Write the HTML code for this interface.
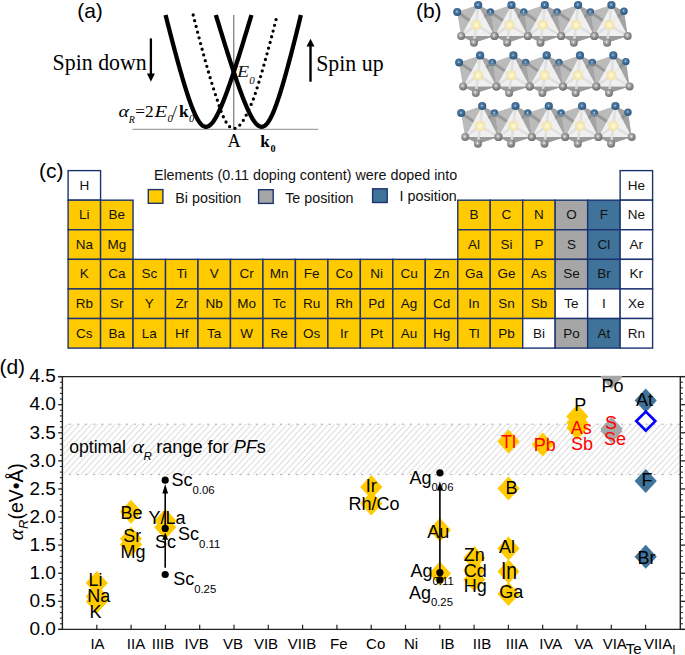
<!DOCTYPE html>
<html><head><meta charset="utf-8"><title>Figure</title>
<style>
html,body{margin:0;padding:0;background:#fff;}
svg{display:block;}
text{font-family:"Liberation Sans", sans-serif;}
.sf{font-family:"Liberation Serif", serif;}
</style></head><body>
<svg width="685" height="655" viewBox="0 0 685 655">
<defs>
<radialGradient id="gb" cx="0.45" cy="0.42" r="0.62"><stop offset="0" stop-color="#5e8cb4"/><stop offset="0.6" stop-color="#3a6891"/><stop offset="1" stop-color="#284e72"/></radialGradient>
<radialGradient id="gg" cx="0.42" cy="0.38" r="0.65"><stop offset="0" stop-color="#d0d0d0"/><stop offset="0.55" stop-color="#8e8e8e"/><stop offset="1" stop-color="#6c6c6c"/></radialGradient>
<radialGradient id="gy" cx="0.5" cy="0.5" r="0.5"><stop offset="0" stop-color="#fffbe6"/><stop offset="0.55" stop-color="#f7eab2"/><stop offset="0.85" stop-color="#f1e2a4" stop-opacity="0.8"/><stop offset="1" stop-color="#f0e0a0" stop-opacity="0"/></radialGradient>
<pattern id="hatch" patternUnits="userSpaceOnUse" width="5.93" height="6.46" patternTransform="translate(61.9 424.2)">
<path d="M-5.93,6.46 L0,0 M0,6.46 L5.93,0 M5.93,6.46 L11.86,0" stroke="#c2c2c2" stroke-width="0.8" fill="none"/>
</pattern>
<clipPath id="poclip"><rect x="62.4" y="375.7" width="617.9" height="252.8"/></clipPath>
</defs>
<rect width="685" height="655" fill="#fff"/>

<text x="77.2" y="18.3" font-size="21">(a)</text>
<line x1="233.8" y1="15" x2="233.8" y2="129.3" stroke="#5a5a5a" stroke-width="1"/>
<line x1="132.5" y1="129.3" x2="318.3" y2="129.3" stroke="#8c8c8c" stroke-width="1"/>
<path d="M193.19,15.00 L193.91,17.82 L194.62,20.60 L195.32,23.35 L196.02,26.07 L196.71,28.74 L197.40,31.39 L198.08,33.99 L198.75,36.56 L199.42,39.10 L200.08,41.60 L200.74,44.07 L201.39,46.50 L202.03,48.89 L202.67,51.25 L203.30,53.57 L203.93,55.86 L204.55,58.11 L205.16,60.33 L205.77,62.51 L206.38,64.66 L206.98,66.77 L207.57,68.84 L208.15,70.88 L208.74,72.89 L209.31,74.85 L209.88,76.79 L210.45,78.68 L211.01,80.55 L211.57,82.37 L212.12,84.16 L212.67,85.92 L213.21,87.64 L213.74,89.32 L214.28,90.97 L214.80,92.59 L215.33,94.17 L215.84,95.71 L216.36,97.22 L216.86,98.69 L217.30,100.12 L217.73,101.53 L218.17,102.89 L218.60,104.22 L219.03,105.52 L219.45,106.78 L219.88,108.00 L220.30,109.19 L220.72,110.34 L221.14,111.46 L221.56,112.54 L221.97,113.59 L222.39,114.60 L222.80,115.57 L223.21,116.51 L223.62,117.42 L224.03,118.28 L224.44,119.12 L224.85,119.92 L225.26,120.68 L225.66,121.41 L226.07,122.10 L226.47,122.75 L226.88,123.37 L227.28,123.96 L227.68,124.51 L228.09,125.02 L228.49,125.50 L228.90,125.95 L229.30,126.35 L229.71,126.73 L230.11,127.06 L230.52,127.36 L230.92,127.63 L231.33,127.86 L231.74,128.06 L232.15,128.22 L232.56,128.34 L232.97,128.43 L233.38,128.48 L233.80,128.50 L234.22,128.48 L234.64,128.43 L235.06,128.34 L235.48,128.22 L235.90,128.06 L236.33,127.86 L236.76,127.63 L237.19,127.36 L237.62,127.06 L238.06,126.73 L238.50,126.35 L238.94,125.95 L239.39,125.50 L239.84,125.02 L240.29,124.51 L240.74,123.96 L241.20,123.37 L241.66,122.75 L242.13,122.10 L242.60,121.41 L243.07,120.68 L243.55,119.92 L244.03,119.12 L244.52,118.28 L245.01,117.42 L245.51,116.51 L246.00,115.57 L246.51,114.60 L247.02,113.59 L247.53,112.54 L248.05,111.46 L248.57,110.34 L249.10,109.19 L249.63,108.00 L250.17,106.78 L250.72,105.52 L251.27,104.22 L251.82,102.89 L252.38,101.53 L252.95,100.12 L253.52,98.69 L254.04,97.22 L254.56,95.71 L255.07,94.17 L255.60,92.59 L256.12,90.97 L256.66,89.32 L257.19,87.64 L257.73,85.92 L258.28,84.16 L258.83,82.37 L259.39,80.55 L259.95,78.68 L260.52,76.79 L261.09,74.85 L261.66,72.89 L262.25,70.88 L262.83,68.84 L263.42,66.77 L264.02,64.66 L264.63,62.51 L265.24,60.33 L265.85,58.11 L266.47,55.86 L267.10,53.57 L267.73,51.25 L268.37,48.89 L269.01,46.50 L269.66,44.07 L270.32,41.60 L270.98,39.10 L271.65,36.56 L272.32,33.99 L273.00,31.39 L273.69,28.74 L274.38,26.07 L275.08,23.35 L275.78,20.60 L276.49,17.82 L277.21,15.00" fill="none" stroke="#000" stroke-width="3.3" stroke-linecap="round" stroke-dasharray="0 5.9"/>
<path d="M165.55,15.00 L166.26,17.78 L166.95,20.52 L167.64,23.23 L168.33,25.90 L169.01,28.54 L169.68,31.14 L170.34,33.71 L171.00,36.24 L171.65,38.74 L172.29,41.20 L172.93,43.63 L173.57,46.02 L174.19,48.38 L174.81,50.71 L175.43,52.99 L176.04,55.25 L176.64,57.47 L177.23,59.65 L177.82,61.80 L178.41,63.91 L178.99,65.99 L179.56,68.04 L180.13,70.04 L180.69,72.02 L181.25,73.96 L181.80,75.86 L182.34,77.73 L182.88,79.56 L183.42,81.36 L183.95,83.13 L184.47,84.86 L184.99,86.55 L185.51,88.21 L186.02,89.84 L186.52,91.43 L187.02,92.98 L187.52,94.50 L188.01,95.99 L188.50,97.44 L188.98,98.85 L189.46,100.23 L189.93,101.58 L190.40,102.89 L190.87,104.16 L191.33,105.40 L191.79,106.61 L192.25,107.78 L192.70,108.91 L193.15,110.01 L193.59,111.08 L194.03,112.11 L194.47,113.10 L194.91,114.07 L195.34,114.99 L195.77,115.88 L196.20,116.74 L196.62,117.56 L197.04,118.35 L197.46,119.10 L197.88,119.81 L198.30,120.49 L198.71,121.14 L199.12,121.75 L199.54,122.33 L199.94,122.87 L200.35,123.38 L200.76,123.85 L201.16,124.28 L201.57,124.69 L201.97,125.05 L202.38,125.39 L202.78,125.68 L203.18,125.94 L203.58,126.17 L203.99,126.36 L204.39,126.52 L204.79,126.64 L205.19,126.73 L205.60,126.78 L206.00,126.80 L206.40,126.78 L206.81,126.73 L207.22,126.64 L207.62,126.52 L208.03,126.36 L208.44,126.17 L208.86,125.94 L209.27,125.68 L209.69,125.39 L210.10,125.05 L210.52,124.69 L210.95,124.28 L211.37,123.85 L211.80,123.38 L212.23,122.87 L212.66,122.33 L213.10,121.75 L213.54,121.14 L213.98,120.49 L214.43,119.81 L214.88,119.10 L215.33,118.35 L215.79,117.56 L216.25,116.74 L216.72,115.88 L217.19,114.99 L217.66,114.07 L218.14,113.10 L218.62,112.11 L219.11,111.08 L219.60,110.01 L220.10,108.91 L220.60,107.78 L221.11,106.61 L221.62,105.40 L222.14,104.16 L222.66,102.89 L223.19,101.58 L223.73,100.23 L224.27,98.85 L224.81,97.44 L225.36,95.99 L225.92,94.50 L226.49,92.98 L227.06,91.43 L227.63,89.84 L228.21,88.21 L228.80,86.55 L229.40,84.86 L230.00,83.13 L230.61,81.36 L231.23,79.56 L231.85,77.73 L232.48,75.86 L233.11,73.96 L233.76,72.02 L234.41,70.04 L235.06,68.04 L235.73,65.99 L236.40,63.91 L237.08,61.80 L237.76,59.65 L238.46,57.47 L239.16,55.25 L239.87,52.99 L240.58,50.71 L241.31,48.38 L242.04,46.02 L242.78,43.63 L243.53,41.20 L244.28,38.74 L245.04,36.24 L245.82,33.71 L246.59,31.14 L247.38,28.54 L248.18,25.90 L248.98,23.23 L249.79,20.52 L250.61,17.78 L251.44,15.00" fill="none" stroke="#000" stroke-width="4.3" stroke-linejoin="round"/>
<path d="M215.89,15.00 L216.73,17.78 L217.56,20.52 L218.38,23.23 L219.19,25.90 L220.00,28.54 L220.79,31.14 L221.58,33.71 L222.36,36.24 L223.13,38.74 L223.89,41.20 L224.65,43.63 L225.40,46.02 L226.14,48.38 L226.87,50.71 L227.59,52.99 L228.31,55.25 L229.02,57.47 L229.72,59.65 L230.41,61.80 L231.10,63.91 L231.78,65.99 L232.45,68.04 L233.11,70.04 L233.77,72.02 L234.42,73.96 L235.06,75.86 L235.69,77.73 L236.32,79.56 L236.94,81.36 L237.56,83.13 L238.16,84.86 L238.76,86.55 L239.36,88.21 L239.95,89.84 L240.53,91.43 L241.10,92.98 L241.67,94.50 L242.23,95.99 L242.79,97.44 L243.34,98.85 L243.88,100.23 L244.42,101.58 L244.95,102.89 L245.48,104.16 L246.00,105.40 L246.51,106.61 L247.02,107.78 L247.53,108.91 L248.02,110.01 L248.52,111.08 L249.01,112.11 L249.49,113.10 L249.97,114.07 L250.45,114.99 L250.92,115.88 L251.39,116.74 L251.85,117.56 L252.31,118.35 L252.76,119.10 L253.21,119.81 L253.66,120.49 L254.10,121.14 L254.54,121.75 L254.97,122.33 L255.41,122.87 L255.84,123.38 L256.26,123.85 L256.69,124.28 L257.11,124.69 L257.53,125.05 L257.94,125.39 L258.36,125.68 L258.77,125.94 L259.18,126.17 L259.58,126.36 L259.99,126.52 L260.39,126.64 L260.80,126.73 L261.20,126.78 L261.60,126.80 L262.00,126.78 L262.40,126.73 L262.80,126.64 L263.19,126.52 L263.59,126.36 L263.99,126.17 L264.38,125.94 L264.78,125.68 L265.18,125.39 L265.57,125.05 L265.97,124.69 L266.37,124.28 L266.77,123.85 L267.17,123.38 L267.57,122.87 L267.97,122.33 L268.37,121.75 L268.78,121.14 L269.18,120.49 L269.59,119.81 L270.00,119.10 L270.41,118.35 L270.82,117.56 L271.24,116.74 L271.66,115.88 L272.08,114.99 L272.50,114.07 L272.92,113.10 L273.35,112.11 L273.78,111.08 L274.22,110.01 L274.65,108.91 L275.09,107.78 L275.53,106.61 L275.98,105.40 L276.43,104.16 L276.88,102.89 L277.34,101.58 L277.80,100.23 L278.27,98.85 L278.74,97.44 L279.21,95.99 L279.69,94.50 L280.17,92.98 L280.65,91.43 L281.14,89.84 L281.64,88.21 L282.14,86.55 L282.64,84.86 L283.15,83.13 L283.66,81.36 L284.18,79.56 L284.70,77.73 L285.23,75.86 L285.76,73.96 L286.30,72.02 L286.85,70.04 L287.39,68.04 L287.95,65.99 L288.51,63.91 L289.07,61.80 L289.64,59.65 L290.22,57.47 L290.80,55.25 L291.39,52.99 L291.98,50.71 L292.58,48.38 L293.19,46.02 L293.80,43.63 L294.41,41.20 L295.04,38.74 L295.67,36.24 L296.30,33.71 L296.94,31.14 L297.59,28.54 L298.24,25.90 L298.90,23.23 L299.57,20.52 L300.24,17.78 L300.92,15.00" fill="none" stroke="#000" stroke-width="4.3" stroke-linejoin="round"/>
<text class="sf" transform="translate(52.6 69.8) scale(0.972 1)" font-size="22.5">Spin down</text>
<text class="sf" transform="translate(316.2 71) scale(0.972 1)" font-size="22.5">Spin up</text>
<line x1="150.9" y1="38.4" x2="150.9" y2="74.5" stroke="#000" stroke-width="2.3"/>
<polygon points="146.9,73.6 154.9,73.6 150.9,81.7" fill="#000"/>
<line x1="310.5" y1="45.5" x2="310.5" y2="81.7" stroke="#000" stroke-width="2.4"/>
<polygon points="306.5,46.4 314.5,46.4 310.5,38.8" fill="#000"/>
<text class="sf" transform="translate(237.1 76.8) scale(1.19 1)" font-size="16.6" font-style="italic" fill="#111">E</text>
<text class="sf" x="249.2" y="84" font-size="11" font-style="italic" fill="#111">0</text>
<text class="sf" transform="translate(118.6 117) scale(1.13 1)" font-size="17.6" font-style="italic">α</text>
<text class="sf" x="128.7" y="122.7" font-size="10" font-style="italic">R</text>
<text class="sf" x="135.2" y="117" font-size="17.3">=2</text>
<text class="sf" transform="translate(154.6 117) scale(1.2 1)" font-size="17.3" font-style="italic">E</text>
<text class="sf" x="167.4" y="122.3" font-size="10.8" font-style="italic">0</text>
<text class="sf" x="172.2" y="117" font-size="17.3">/</text>
<text class="sf" x="178.9" y="117" font-size="17.3" font-weight="bold">k</text>
<text class="sf" x="188.9" y="122" font-size="10.5" font-style="italic">0</text>
<text class="sf" x="227.5" y="146.5" font-size="18.3">A</text>
<text class="sf" x="260.3" y="146.5" font-size="17.2" font-weight="bold">k</text>
<text class="sf" x="270.6" y="151.5" font-size="10.2" font-weight="bold">0</text>
<text x="415.9" y="18.1" font-size="21">(b)</text>
<polygon points="457.2,12.0 478.2,5.0 490.8,11.2 494.5,36.0 473.9,42.7 461.2,36.0" fill="#929292" fill-opacity="0.7"/>
<polygon points="457.2,12.0 478.2,5.0 461.2,36.0" fill="#c4c4c4" fill-opacity="0.5"/>
<polygon points="478.2,5.0 490.8,11.2 494.5,36.0" fill="#969696" fill-opacity="0.5"/>
<polygon points="461.2,36.0 473.9,42.7 494.5,36.0" fill="#9a9a9a"/>
<line x1="476.2" y1="25.0" x2="457.2" y2="12.0" stroke="#7e7e7e" stroke-opacity="0.55" stroke-width="2.8"/>
<line x1="476.2" y1="25.0" x2="490.8" y2="11.2" stroke="#7e7e7e" stroke-opacity="0.55" stroke-width="2.8"/>
<polygon points="478.2,5.0 461.2,36.0 494.5,36.0" fill="#f6f6f6" fill-opacity="0.9"/>
<line x1="476.2" y1="25.0" x2="478.2" y2="5.0" stroke="#dedede" stroke-opacity="0.9" stroke-width="2.6"/>
<line x1="476.2" y1="25.0" x2="461.2" y2="36.0" stroke="#dedede" stroke-opacity="0.9" stroke-width="2.6"/>
<line x1="476.2" y1="25.0" x2="473.9" y2="42.7" stroke="#dedede" stroke-opacity="0.9" stroke-width="2.6"/>
<line x1="476.2" y1="25.0" x2="494.5" y2="36.0" stroke="#dedede" stroke-opacity="0.9" stroke-width="2.6"/>
<circle cx="476.2" cy="25.0" r="5.6" fill="url(#gy)"/>
<polygon points="490.5,12.0 511.5,5.0 524.1,11.2 527.8,36.0 507.2,42.7 494.5,36.0" fill="#929292" fill-opacity="0.7"/>
<polygon points="490.5,12.0 511.5,5.0 494.5,36.0" fill="#c4c4c4" fill-opacity="0.5"/>
<polygon points="511.5,5.0 524.1,11.2 527.8,36.0" fill="#969696" fill-opacity="0.5"/>
<polygon points="494.5,36.0 507.2,42.7 527.8,36.0" fill="#9a9a9a"/>
<line x1="509.5" y1="25.0" x2="490.5" y2="12.0" stroke="#7e7e7e" stroke-opacity="0.55" stroke-width="2.8"/>
<line x1="509.5" y1="25.0" x2="524.1" y2="11.2" stroke="#7e7e7e" stroke-opacity="0.55" stroke-width="2.8"/>
<polygon points="511.5,5.0 494.5,36.0 527.8,36.0" fill="#f6f6f6" fill-opacity="0.9"/>
<line x1="509.5" y1="25.0" x2="511.5" y2="5.0" stroke="#dedede" stroke-opacity="0.9" stroke-width="2.6"/>
<line x1="509.5" y1="25.0" x2="494.5" y2="36.0" stroke="#dedede" stroke-opacity="0.9" stroke-width="2.6"/>
<line x1="509.5" y1="25.0" x2="507.2" y2="42.7" stroke="#dedede" stroke-opacity="0.9" stroke-width="2.6"/>
<line x1="509.5" y1="25.0" x2="527.8" y2="36.0" stroke="#dedede" stroke-opacity="0.9" stroke-width="2.6"/>
<circle cx="509.5" cy="25.0" r="5.6" fill="url(#gy)"/>
<polygon points="523.8,12.0 544.8,5.0 557.4,11.2 561.1,36.0 540.5,42.7 527.8,36.0" fill="#929292" fill-opacity="0.7"/>
<polygon points="523.8,12.0 544.8,5.0 527.8,36.0" fill="#c4c4c4" fill-opacity="0.5"/>
<polygon points="544.8,5.0 557.4,11.2 561.1,36.0" fill="#969696" fill-opacity="0.5"/>
<polygon points="527.8,36.0 540.5,42.7 561.1,36.0" fill="#9a9a9a"/>
<line x1="542.8" y1="25.0" x2="523.8" y2="12.0" stroke="#7e7e7e" stroke-opacity="0.55" stroke-width="2.8"/>
<line x1="542.8" y1="25.0" x2="557.4" y2="11.2" stroke="#7e7e7e" stroke-opacity="0.55" stroke-width="2.8"/>
<polygon points="544.8,5.0 527.8,36.0 561.1,36.0" fill="#f6f6f6" fill-opacity="0.9"/>
<line x1="542.8" y1="25.0" x2="544.8" y2="5.0" stroke="#dedede" stroke-opacity="0.9" stroke-width="2.6"/>
<line x1="542.8" y1="25.0" x2="527.8" y2="36.0" stroke="#dedede" stroke-opacity="0.9" stroke-width="2.6"/>
<line x1="542.8" y1="25.0" x2="540.5" y2="42.7" stroke="#dedede" stroke-opacity="0.9" stroke-width="2.6"/>
<line x1="542.8" y1="25.0" x2="561.1" y2="36.0" stroke="#dedede" stroke-opacity="0.9" stroke-width="2.6"/>
<circle cx="542.8" cy="25.0" r="5.6" fill="url(#gy)"/>
<polygon points="557.1,12.0 578.1,5.0 590.7,11.2 594.4,36.0 573.8,42.7 561.1,36.0" fill="#929292" fill-opacity="0.7"/>
<polygon points="557.1,12.0 578.1,5.0 561.1,36.0" fill="#c4c4c4" fill-opacity="0.5"/>
<polygon points="578.1,5.0 590.7,11.2 594.4,36.0" fill="#969696" fill-opacity="0.5"/>
<polygon points="561.1,36.0 573.8,42.7 594.4,36.0" fill="#9a9a9a"/>
<line x1="576.1" y1="25.0" x2="557.1" y2="12.0" stroke="#7e7e7e" stroke-opacity="0.55" stroke-width="2.8"/>
<line x1="576.1" y1="25.0" x2="590.7" y2="11.2" stroke="#7e7e7e" stroke-opacity="0.55" stroke-width="2.8"/>
<polygon points="578.1,5.0 561.1,36.0 594.4,36.0" fill="#f6f6f6" fill-opacity="0.9"/>
<line x1="576.1" y1="25.0" x2="578.1" y2="5.0" stroke="#dedede" stroke-opacity="0.9" stroke-width="2.6"/>
<line x1="576.1" y1="25.0" x2="561.1" y2="36.0" stroke="#dedede" stroke-opacity="0.9" stroke-width="2.6"/>
<line x1="576.1" y1="25.0" x2="573.8" y2="42.7" stroke="#dedede" stroke-opacity="0.9" stroke-width="2.6"/>
<line x1="576.1" y1="25.0" x2="594.4" y2="36.0" stroke="#dedede" stroke-opacity="0.9" stroke-width="2.6"/>
<circle cx="576.1" cy="25.0" r="5.6" fill="url(#gy)"/>
<polygon points="590.4,12.0 611.4,5.0 624.0,11.2 627.7,36.0 607.1,42.7 594.4,36.0" fill="#929292" fill-opacity="0.7"/>
<polygon points="590.4,12.0 611.4,5.0 594.4,36.0" fill="#c4c4c4" fill-opacity="0.5"/>
<polygon points="611.4,5.0 624.0,11.2 627.7,36.0" fill="#969696" fill-opacity="0.5"/>
<polygon points="594.4,36.0 607.1,42.7 627.7,36.0" fill="#9a9a9a"/>
<line x1="609.4" y1="25.0" x2="590.4" y2="12.0" stroke="#7e7e7e" stroke-opacity="0.55" stroke-width="2.8"/>
<line x1="609.4" y1="25.0" x2="624.0" y2="11.2" stroke="#7e7e7e" stroke-opacity="0.55" stroke-width="2.8"/>
<polygon points="611.4,5.0 594.4,36.0 627.7,36.0" fill="#f6f6f6" fill-opacity="0.9"/>
<line x1="609.4" y1="25.0" x2="611.4" y2="5.0" stroke="#dedede" stroke-opacity="0.9" stroke-width="2.6"/>
<line x1="609.4" y1="25.0" x2="594.4" y2="36.0" stroke="#dedede" stroke-opacity="0.9" stroke-width="2.6"/>
<line x1="609.4" y1="25.0" x2="607.1" y2="42.7" stroke="#dedede" stroke-opacity="0.9" stroke-width="2.6"/>
<line x1="609.4" y1="25.0" x2="627.7" y2="36.0" stroke="#dedede" stroke-opacity="0.9" stroke-width="2.6"/>
<circle cx="609.4" cy="25.0" r="5.6" fill="url(#gy)"/>
<circle cx="490.5" cy="12.0" r="3.7" fill="url(#gb)"/>
<circle cx="490.2" cy="11.7" r="0.7" fill="#fff" fill-opacity="0.75"/>
<path d="M486.6,13.0 A3.9,3.9 0 0 0 494.4,13.0 Z" fill="#a4a4a4" fill-opacity="0.55"/>
<circle cx="523.8" cy="12.0" r="3.7" fill="url(#gb)"/>
<circle cx="523.5" cy="11.7" r="0.7" fill="#fff" fill-opacity="0.75"/>
<path d="M519.9,13.0 A3.9,3.9 0 0 0 527.7,13.0 Z" fill="#a4a4a4" fill-opacity="0.55"/>
<circle cx="557.1" cy="12.0" r="3.7" fill="url(#gb)"/>
<circle cx="556.8" cy="11.7" r="0.7" fill="#fff" fill-opacity="0.75"/>
<path d="M553.2,13.0 A3.9,3.9 0 0 0 561.0,13.0 Z" fill="#a4a4a4" fill-opacity="0.55"/>
<circle cx="590.4" cy="12.0" r="3.7" fill="url(#gb)"/>
<circle cx="590.1" cy="11.7" r="0.7" fill="#fff" fill-opacity="0.75"/>
<path d="M586.5,13.0 A3.9,3.9 0 0 0 594.3,13.0 Z" fill="#a4a4a4" fill-opacity="0.55"/>
<circle cx="457.2" cy="12.0" r="4.0" fill="url(#gb)"/>
<circle cx="456.9" cy="11.7" r="0.7" fill="#fff" fill-opacity="0.75"/>
<circle cx="624.0" cy="11.2" r="3.7" fill="url(#gb)"/>
<circle cx="623.7" cy="10.9" r="0.7" fill="#fff" fill-opacity="0.75"/>
<circle cx="478.2" cy="5.0" r="4.1" fill="url(#gb)"/>
<circle cx="477.9" cy="4.7" r="0.7" fill="#fff" fill-opacity="0.75"/>
<circle cx="511.5" cy="5.0" r="4.1" fill="url(#gb)"/>
<circle cx="511.2" cy="4.7" r="0.7" fill="#fff" fill-opacity="0.75"/>
<circle cx="544.8" cy="5.0" r="4.1" fill="url(#gb)"/>
<circle cx="544.5" cy="4.7" r="0.7" fill="#fff" fill-opacity="0.75"/>
<circle cx="578.1" cy="5.0" r="4.1" fill="url(#gb)"/>
<circle cx="577.8" cy="4.7" r="0.7" fill="#fff" fill-opacity="0.75"/>
<circle cx="611.4" cy="5.0" r="4.1" fill="url(#gb)"/>
<circle cx="611.1" cy="4.7" r="0.7" fill="#fff" fill-opacity="0.75"/>
<circle cx="461.2" cy="36.0" r="4.0" fill="url(#gg)"/>
<circle cx="460.9" cy="35.7" r="0.7" fill="#fff" fill-opacity="0.75"/>
<circle cx="494.5" cy="36.0" r="4.0" fill="url(#gg)"/>
<circle cx="494.2" cy="35.7" r="0.7" fill="#fff" fill-opacity="0.75"/>
<circle cx="473.9" cy="42.7" r="4.0" fill="url(#gg)"/>
<circle cx="473.6" cy="42.4" r="0.7" fill="#fff" fill-opacity="0.75"/>
<circle cx="494.5" cy="36.0" r="4.0" fill="url(#gg)"/>
<circle cx="494.2" cy="35.7" r="0.7" fill="#fff" fill-opacity="0.75"/>
<circle cx="527.8" cy="36.0" r="4.0" fill="url(#gg)"/>
<circle cx="527.5" cy="35.7" r="0.7" fill="#fff" fill-opacity="0.75"/>
<circle cx="507.2" cy="42.7" r="4.0" fill="url(#gg)"/>
<circle cx="506.9" cy="42.4" r="0.7" fill="#fff" fill-opacity="0.75"/>
<circle cx="527.8" cy="36.0" r="4.0" fill="url(#gg)"/>
<circle cx="527.5" cy="35.7" r="0.7" fill="#fff" fill-opacity="0.75"/>
<circle cx="561.1" cy="36.0" r="4.0" fill="url(#gg)"/>
<circle cx="560.8" cy="35.7" r="0.7" fill="#fff" fill-opacity="0.75"/>
<circle cx="540.5" cy="42.7" r="4.0" fill="url(#gg)"/>
<circle cx="540.2" cy="42.4" r="0.7" fill="#fff" fill-opacity="0.75"/>
<circle cx="561.1" cy="36.0" r="4.0" fill="url(#gg)"/>
<circle cx="560.8" cy="35.7" r="0.7" fill="#fff" fill-opacity="0.75"/>
<circle cx="594.4" cy="36.0" r="4.0" fill="url(#gg)"/>
<circle cx="594.1" cy="35.7" r="0.7" fill="#fff" fill-opacity="0.75"/>
<circle cx="573.8" cy="42.7" r="4.0" fill="url(#gg)"/>
<circle cx="573.5" cy="42.4" r="0.7" fill="#fff" fill-opacity="0.75"/>
<circle cx="594.4" cy="36.0" r="4.0" fill="url(#gg)"/>
<circle cx="594.1" cy="35.7" r="0.7" fill="#fff" fill-opacity="0.75"/>
<circle cx="627.7" cy="36.0" r="4.0" fill="url(#gg)"/>
<circle cx="627.4" cy="35.7" r="0.7" fill="#fff" fill-opacity="0.75"/>
<circle cx="607.1" cy="42.7" r="4.0" fill="url(#gg)"/>
<circle cx="606.8" cy="42.4" r="0.7" fill="#fff" fill-opacity="0.75"/>
<polygon points="459.1,62.4 480.1,55.4 492.7,61.6 496.4,86.4 475.8,93.1 463.1,86.4" fill="#929292" fill-opacity="0.7"/>
<polygon points="459.1,62.4 480.1,55.4 463.1,86.4" fill="#c4c4c4" fill-opacity="0.5"/>
<polygon points="480.1,55.4 492.7,61.6 496.4,86.4" fill="#969696" fill-opacity="0.5"/>
<polygon points="463.1,86.4 475.8,93.1 496.4,86.4" fill="#9a9a9a"/>
<line x1="478.1" y1="75.4" x2="459.1" y2="62.4" stroke="#7e7e7e" stroke-opacity="0.55" stroke-width="2.8"/>
<line x1="478.1" y1="75.4" x2="492.7" y2="61.6" stroke="#7e7e7e" stroke-opacity="0.55" stroke-width="2.8"/>
<polygon points="480.1,55.4 463.1,86.4 496.4,86.4" fill="#f6f6f6" fill-opacity="0.9"/>
<line x1="478.1" y1="75.4" x2="480.1" y2="55.4" stroke="#dedede" stroke-opacity="0.9" stroke-width="2.6"/>
<line x1="478.1" y1="75.4" x2="463.1" y2="86.4" stroke="#dedede" stroke-opacity="0.9" stroke-width="2.6"/>
<line x1="478.1" y1="75.4" x2="475.8" y2="93.1" stroke="#dedede" stroke-opacity="0.9" stroke-width="2.6"/>
<line x1="478.1" y1="75.4" x2="496.4" y2="86.4" stroke="#dedede" stroke-opacity="0.9" stroke-width="2.6"/>
<circle cx="478.1" cy="75.4" r="5.6" fill="url(#gy)"/>
<polygon points="492.4,62.4 513.4,55.4 526.0,61.6 529.7,86.4 509.1,93.1 496.4,86.4" fill="#929292" fill-opacity="0.7"/>
<polygon points="492.4,62.4 513.4,55.4 496.4,86.4" fill="#c4c4c4" fill-opacity="0.5"/>
<polygon points="513.4,55.4 526.0,61.6 529.7,86.4" fill="#969696" fill-opacity="0.5"/>
<polygon points="496.4,86.4 509.1,93.1 529.7,86.4" fill="#9a9a9a"/>
<line x1="511.4" y1="75.4" x2="492.4" y2="62.4" stroke="#7e7e7e" stroke-opacity="0.55" stroke-width="2.8"/>
<line x1="511.4" y1="75.4" x2="526.0" y2="61.6" stroke="#7e7e7e" stroke-opacity="0.55" stroke-width="2.8"/>
<polygon points="513.4,55.4 496.4,86.4 529.7,86.4" fill="#f6f6f6" fill-opacity="0.9"/>
<line x1="511.4" y1="75.4" x2="513.4" y2="55.4" stroke="#dedede" stroke-opacity="0.9" stroke-width="2.6"/>
<line x1="511.4" y1="75.4" x2="496.4" y2="86.4" stroke="#dedede" stroke-opacity="0.9" stroke-width="2.6"/>
<line x1="511.4" y1="75.4" x2="509.1" y2="93.1" stroke="#dedede" stroke-opacity="0.9" stroke-width="2.6"/>
<line x1="511.4" y1="75.4" x2="529.7" y2="86.4" stroke="#dedede" stroke-opacity="0.9" stroke-width="2.6"/>
<circle cx="511.4" cy="75.4" r="5.6" fill="url(#gy)"/>
<polygon points="525.7,62.4 546.7,55.4 559.3,61.6 563.0,86.4 542.4,93.1 529.7,86.4" fill="#929292" fill-opacity="0.7"/>
<polygon points="525.7,62.4 546.7,55.4 529.7,86.4" fill="#c4c4c4" fill-opacity="0.5"/>
<polygon points="546.7,55.4 559.3,61.6 563.0,86.4" fill="#969696" fill-opacity="0.5"/>
<polygon points="529.7,86.4 542.4,93.1 563.0,86.4" fill="#9a9a9a"/>
<line x1="544.7" y1="75.4" x2="525.7" y2="62.4" stroke="#7e7e7e" stroke-opacity="0.55" stroke-width="2.8"/>
<line x1="544.7" y1="75.4" x2="559.3" y2="61.6" stroke="#7e7e7e" stroke-opacity="0.55" stroke-width="2.8"/>
<polygon points="546.7,55.4 529.7,86.4 563.0,86.4" fill="#f6f6f6" fill-opacity="0.9"/>
<line x1="544.7" y1="75.4" x2="546.7" y2="55.4" stroke="#dedede" stroke-opacity="0.9" stroke-width="2.6"/>
<line x1="544.7" y1="75.4" x2="529.7" y2="86.4" stroke="#dedede" stroke-opacity="0.9" stroke-width="2.6"/>
<line x1="544.7" y1="75.4" x2="542.4" y2="93.1" stroke="#dedede" stroke-opacity="0.9" stroke-width="2.6"/>
<line x1="544.7" y1="75.4" x2="563.0" y2="86.4" stroke="#dedede" stroke-opacity="0.9" stroke-width="2.6"/>
<circle cx="544.7" cy="75.4" r="5.6" fill="url(#gy)"/>
<polygon points="559.0,62.4 580.0,55.4 592.6,61.6 596.3,86.4 575.7,93.1 563.0,86.4" fill="#929292" fill-opacity="0.7"/>
<polygon points="559.0,62.4 580.0,55.4 563.0,86.4" fill="#c4c4c4" fill-opacity="0.5"/>
<polygon points="580.0,55.4 592.6,61.6 596.3,86.4" fill="#969696" fill-opacity="0.5"/>
<polygon points="563.0,86.4 575.7,93.1 596.3,86.4" fill="#9a9a9a"/>
<line x1="578.0" y1="75.4" x2="559.0" y2="62.4" stroke="#7e7e7e" stroke-opacity="0.55" stroke-width="2.8"/>
<line x1="578.0" y1="75.4" x2="592.6" y2="61.6" stroke="#7e7e7e" stroke-opacity="0.55" stroke-width="2.8"/>
<polygon points="580.0,55.4 563.0,86.4 596.3,86.4" fill="#f6f6f6" fill-opacity="0.9"/>
<line x1="578.0" y1="75.4" x2="580.0" y2="55.4" stroke="#dedede" stroke-opacity="0.9" stroke-width="2.6"/>
<line x1="578.0" y1="75.4" x2="563.0" y2="86.4" stroke="#dedede" stroke-opacity="0.9" stroke-width="2.6"/>
<line x1="578.0" y1="75.4" x2="575.7" y2="93.1" stroke="#dedede" stroke-opacity="0.9" stroke-width="2.6"/>
<line x1="578.0" y1="75.4" x2="596.3" y2="86.4" stroke="#dedede" stroke-opacity="0.9" stroke-width="2.6"/>
<circle cx="578.0" cy="75.4" r="5.6" fill="url(#gy)"/>
<polygon points="592.3,62.4 613.3,55.4 625.9,61.6 629.6,86.4 609.0,93.1 596.3,86.4" fill="#929292" fill-opacity="0.7"/>
<polygon points="592.3,62.4 613.3,55.4 596.3,86.4" fill="#c4c4c4" fill-opacity="0.5"/>
<polygon points="613.3,55.4 625.9,61.6 629.6,86.4" fill="#969696" fill-opacity="0.5"/>
<polygon points="596.3,86.4 609.0,93.1 629.6,86.4" fill="#9a9a9a"/>
<line x1="611.3" y1="75.4" x2="592.3" y2="62.4" stroke="#7e7e7e" stroke-opacity="0.55" stroke-width="2.8"/>
<line x1="611.3" y1="75.4" x2="625.9" y2="61.6" stroke="#7e7e7e" stroke-opacity="0.55" stroke-width="2.8"/>
<polygon points="613.3,55.4 596.3,86.4 629.6,86.4" fill="#f6f6f6" fill-opacity="0.9"/>
<line x1="611.3" y1="75.4" x2="613.3" y2="55.4" stroke="#dedede" stroke-opacity="0.9" stroke-width="2.6"/>
<line x1="611.3" y1="75.4" x2="596.3" y2="86.4" stroke="#dedede" stroke-opacity="0.9" stroke-width="2.6"/>
<line x1="611.3" y1="75.4" x2="609.0" y2="93.1" stroke="#dedede" stroke-opacity="0.9" stroke-width="2.6"/>
<line x1="611.3" y1="75.4" x2="629.6" y2="86.4" stroke="#dedede" stroke-opacity="0.9" stroke-width="2.6"/>
<circle cx="611.3" cy="75.4" r="5.6" fill="url(#gy)"/>
<circle cx="492.4" cy="62.4" r="3.7" fill="url(#gb)"/>
<circle cx="492.1" cy="62.1" r="0.7" fill="#fff" fill-opacity="0.75"/>
<path d="M488.5,63.4 A3.9,3.9 0 0 0 496.3,63.4 Z" fill="#a4a4a4" fill-opacity="0.55"/>
<circle cx="525.7" cy="62.4" r="3.7" fill="url(#gb)"/>
<circle cx="525.4" cy="62.1" r="0.7" fill="#fff" fill-opacity="0.75"/>
<path d="M521.8,63.4 A3.9,3.9 0 0 0 529.6,63.4 Z" fill="#a4a4a4" fill-opacity="0.55"/>
<circle cx="559.0" cy="62.4" r="3.7" fill="url(#gb)"/>
<circle cx="558.7" cy="62.1" r="0.7" fill="#fff" fill-opacity="0.75"/>
<path d="M555.1,63.4 A3.9,3.9 0 0 0 562.9,63.4 Z" fill="#a4a4a4" fill-opacity="0.55"/>
<circle cx="592.3" cy="62.4" r="3.7" fill="url(#gb)"/>
<circle cx="592.0" cy="62.1" r="0.7" fill="#fff" fill-opacity="0.75"/>
<path d="M588.4,63.4 A3.9,3.9 0 0 0 596.2,63.4 Z" fill="#a4a4a4" fill-opacity="0.55"/>
<circle cx="459.1" cy="62.4" r="4.0" fill="url(#gb)"/>
<circle cx="458.8" cy="62.1" r="0.7" fill="#fff" fill-opacity="0.75"/>
<circle cx="625.9" cy="61.6" r="3.7" fill="url(#gb)"/>
<circle cx="625.6" cy="61.3" r="0.7" fill="#fff" fill-opacity="0.75"/>
<circle cx="480.1" cy="55.4" r="4.1" fill="url(#gb)"/>
<circle cx="479.8" cy="55.1" r="0.7" fill="#fff" fill-opacity="0.75"/>
<circle cx="513.4" cy="55.4" r="4.1" fill="url(#gb)"/>
<circle cx="513.1" cy="55.1" r="0.7" fill="#fff" fill-opacity="0.75"/>
<circle cx="546.7" cy="55.4" r="4.1" fill="url(#gb)"/>
<circle cx="546.4" cy="55.1" r="0.7" fill="#fff" fill-opacity="0.75"/>
<circle cx="580.0" cy="55.4" r="4.1" fill="url(#gb)"/>
<circle cx="579.7" cy="55.1" r="0.7" fill="#fff" fill-opacity="0.75"/>
<circle cx="613.3" cy="55.4" r="4.1" fill="url(#gb)"/>
<circle cx="613.0" cy="55.1" r="0.7" fill="#fff" fill-opacity="0.75"/>
<circle cx="463.1" cy="86.4" r="4.0" fill="url(#gg)"/>
<circle cx="462.8" cy="86.1" r="0.7" fill="#fff" fill-opacity="0.75"/>
<circle cx="496.4" cy="86.4" r="4.0" fill="url(#gg)"/>
<circle cx="496.1" cy="86.1" r="0.7" fill="#fff" fill-opacity="0.75"/>
<circle cx="475.8" cy="93.1" r="4.0" fill="url(#gg)"/>
<circle cx="475.5" cy="92.8" r="0.7" fill="#fff" fill-opacity="0.75"/>
<circle cx="496.4" cy="86.4" r="4.0" fill="url(#gg)"/>
<circle cx="496.1" cy="86.1" r="0.7" fill="#fff" fill-opacity="0.75"/>
<circle cx="529.7" cy="86.4" r="4.0" fill="url(#gg)"/>
<circle cx="529.4" cy="86.1" r="0.7" fill="#fff" fill-opacity="0.75"/>
<circle cx="509.1" cy="93.1" r="4.0" fill="url(#gg)"/>
<circle cx="508.8" cy="92.8" r="0.7" fill="#fff" fill-opacity="0.75"/>
<circle cx="529.7" cy="86.4" r="4.0" fill="url(#gg)"/>
<circle cx="529.4" cy="86.1" r="0.7" fill="#fff" fill-opacity="0.75"/>
<circle cx="563.0" cy="86.4" r="4.0" fill="url(#gg)"/>
<circle cx="562.7" cy="86.1" r="0.7" fill="#fff" fill-opacity="0.75"/>
<circle cx="542.4" cy="93.1" r="4.0" fill="url(#gg)"/>
<circle cx="542.1" cy="92.8" r="0.7" fill="#fff" fill-opacity="0.75"/>
<circle cx="563.0" cy="86.4" r="4.0" fill="url(#gg)"/>
<circle cx="562.7" cy="86.1" r="0.7" fill="#fff" fill-opacity="0.75"/>
<circle cx="596.3" cy="86.4" r="4.0" fill="url(#gg)"/>
<circle cx="596.0" cy="86.1" r="0.7" fill="#fff" fill-opacity="0.75"/>
<circle cx="575.7" cy="93.1" r="4.0" fill="url(#gg)"/>
<circle cx="575.4" cy="92.8" r="0.7" fill="#fff" fill-opacity="0.75"/>
<circle cx="596.3" cy="86.4" r="4.0" fill="url(#gg)"/>
<circle cx="596.0" cy="86.1" r="0.7" fill="#fff" fill-opacity="0.75"/>
<circle cx="629.6" cy="86.4" r="4.0" fill="url(#gg)"/>
<circle cx="629.3" cy="86.1" r="0.7" fill="#fff" fill-opacity="0.75"/>
<circle cx="609.0" cy="93.1" r="4.0" fill="url(#gg)"/>
<circle cx="608.7" cy="92.8" r="0.7" fill="#fff" fill-opacity="0.75"/>
<polygon points="461.2,113.0 482.2,106.0 494.8,112.2 498.5,137.0 477.9,143.7 465.2,137.0" fill="#929292" fill-opacity="0.7"/>
<polygon points="461.2,113.0 482.2,106.0 465.2,137.0" fill="#c4c4c4" fill-opacity="0.5"/>
<polygon points="482.2,106.0 494.8,112.2 498.5,137.0" fill="#969696" fill-opacity="0.5"/>
<polygon points="465.2,137.0 477.9,143.7 498.5,137.0" fill="#9a9a9a"/>
<line x1="480.2" y1="126.0" x2="461.2" y2="113.0" stroke="#7e7e7e" stroke-opacity="0.55" stroke-width="2.8"/>
<line x1="480.2" y1="126.0" x2="494.8" y2="112.2" stroke="#7e7e7e" stroke-opacity="0.55" stroke-width="2.8"/>
<polygon points="482.2,106.0 465.2,137.0 498.5,137.0" fill="#f6f6f6" fill-opacity="0.9"/>
<line x1="480.2" y1="126.0" x2="482.2" y2="106.0" stroke="#dedede" stroke-opacity="0.9" stroke-width="2.6"/>
<line x1="480.2" y1="126.0" x2="465.2" y2="137.0" stroke="#dedede" stroke-opacity="0.9" stroke-width="2.6"/>
<line x1="480.2" y1="126.0" x2="477.9" y2="143.7" stroke="#dedede" stroke-opacity="0.9" stroke-width="2.6"/>
<line x1="480.2" y1="126.0" x2="498.5" y2="137.0" stroke="#dedede" stroke-opacity="0.9" stroke-width="2.6"/>
<circle cx="480.2" cy="126.0" r="5.6" fill="url(#gy)"/>
<polygon points="494.5,113.0 515.5,106.0 528.1,112.2 531.8,137.0 511.2,143.7 498.5,137.0" fill="#929292" fill-opacity="0.7"/>
<polygon points="494.5,113.0 515.5,106.0 498.5,137.0" fill="#c4c4c4" fill-opacity="0.5"/>
<polygon points="515.5,106.0 528.1,112.2 531.8,137.0" fill="#969696" fill-opacity="0.5"/>
<polygon points="498.5,137.0 511.2,143.7 531.8,137.0" fill="#9a9a9a"/>
<line x1="513.5" y1="126.0" x2="494.5" y2="113.0" stroke="#7e7e7e" stroke-opacity="0.55" stroke-width="2.8"/>
<line x1="513.5" y1="126.0" x2="528.1" y2="112.2" stroke="#7e7e7e" stroke-opacity="0.55" stroke-width="2.8"/>
<polygon points="515.5,106.0 498.5,137.0 531.8,137.0" fill="#f6f6f6" fill-opacity="0.9"/>
<line x1="513.5" y1="126.0" x2="515.5" y2="106.0" stroke="#dedede" stroke-opacity="0.9" stroke-width="2.6"/>
<line x1="513.5" y1="126.0" x2="498.5" y2="137.0" stroke="#dedede" stroke-opacity="0.9" stroke-width="2.6"/>
<line x1="513.5" y1="126.0" x2="511.2" y2="143.7" stroke="#dedede" stroke-opacity="0.9" stroke-width="2.6"/>
<line x1="513.5" y1="126.0" x2="531.8" y2="137.0" stroke="#dedede" stroke-opacity="0.9" stroke-width="2.6"/>
<circle cx="513.5" cy="126.0" r="5.6" fill="url(#gy)"/>
<polygon points="527.8,113.0 548.8,106.0 561.4,112.2 565.1,137.0 544.5,143.7 531.8,137.0" fill="#929292" fill-opacity="0.7"/>
<polygon points="527.8,113.0 548.8,106.0 531.8,137.0" fill="#c4c4c4" fill-opacity="0.5"/>
<polygon points="548.8,106.0 561.4,112.2 565.1,137.0" fill="#969696" fill-opacity="0.5"/>
<polygon points="531.8,137.0 544.5,143.7 565.1,137.0" fill="#9a9a9a"/>
<line x1="546.8" y1="126.0" x2="527.8" y2="113.0" stroke="#7e7e7e" stroke-opacity="0.55" stroke-width="2.8"/>
<line x1="546.8" y1="126.0" x2="561.4" y2="112.2" stroke="#7e7e7e" stroke-opacity="0.55" stroke-width="2.8"/>
<polygon points="548.8,106.0 531.8,137.0 565.1,137.0" fill="#f6f6f6" fill-opacity="0.9"/>
<line x1="546.8" y1="126.0" x2="548.8" y2="106.0" stroke="#dedede" stroke-opacity="0.9" stroke-width="2.6"/>
<line x1="546.8" y1="126.0" x2="531.8" y2="137.0" stroke="#dedede" stroke-opacity="0.9" stroke-width="2.6"/>
<line x1="546.8" y1="126.0" x2="544.5" y2="143.7" stroke="#dedede" stroke-opacity="0.9" stroke-width="2.6"/>
<line x1="546.8" y1="126.0" x2="565.1" y2="137.0" stroke="#dedede" stroke-opacity="0.9" stroke-width="2.6"/>
<circle cx="546.8" cy="126.0" r="5.6" fill="url(#gy)"/>
<polygon points="561.1,113.0 582.1,106.0 594.7,112.2 598.4,137.0 577.8,143.7 565.1,137.0" fill="#929292" fill-opacity="0.7"/>
<polygon points="561.1,113.0 582.1,106.0 565.1,137.0" fill="#c4c4c4" fill-opacity="0.5"/>
<polygon points="582.1,106.0 594.7,112.2 598.4,137.0" fill="#969696" fill-opacity="0.5"/>
<polygon points="565.1,137.0 577.8,143.7 598.4,137.0" fill="#9a9a9a"/>
<line x1="580.1" y1="126.0" x2="561.1" y2="113.0" stroke="#7e7e7e" stroke-opacity="0.55" stroke-width="2.8"/>
<line x1="580.1" y1="126.0" x2="594.7" y2="112.2" stroke="#7e7e7e" stroke-opacity="0.55" stroke-width="2.8"/>
<polygon points="582.1,106.0 565.1,137.0 598.4,137.0" fill="#f6f6f6" fill-opacity="0.9"/>
<line x1="580.1" y1="126.0" x2="582.1" y2="106.0" stroke="#dedede" stroke-opacity="0.9" stroke-width="2.6"/>
<line x1="580.1" y1="126.0" x2="565.1" y2="137.0" stroke="#dedede" stroke-opacity="0.9" stroke-width="2.6"/>
<line x1="580.1" y1="126.0" x2="577.8" y2="143.7" stroke="#dedede" stroke-opacity="0.9" stroke-width="2.6"/>
<line x1="580.1" y1="126.0" x2="598.4" y2="137.0" stroke="#dedede" stroke-opacity="0.9" stroke-width="2.6"/>
<circle cx="580.1" cy="126.0" r="5.6" fill="url(#gy)"/>
<polygon points="594.4,113.0 615.4,106.0 628.0,112.2 631.7,137.0 611.1,143.7 598.4,137.0" fill="#929292" fill-opacity="0.7"/>
<polygon points="594.4,113.0 615.4,106.0 598.4,137.0" fill="#c4c4c4" fill-opacity="0.5"/>
<polygon points="615.4,106.0 628.0,112.2 631.7,137.0" fill="#969696" fill-opacity="0.5"/>
<polygon points="598.4,137.0 611.1,143.7 631.7,137.0" fill="#9a9a9a"/>
<line x1="613.4" y1="126.0" x2="594.4" y2="113.0" stroke="#7e7e7e" stroke-opacity="0.55" stroke-width="2.8"/>
<line x1="613.4" y1="126.0" x2="628.0" y2="112.2" stroke="#7e7e7e" stroke-opacity="0.55" stroke-width="2.8"/>
<polygon points="615.4,106.0 598.4,137.0 631.7,137.0" fill="#f6f6f6" fill-opacity="0.9"/>
<line x1="613.4" y1="126.0" x2="615.4" y2="106.0" stroke="#dedede" stroke-opacity="0.9" stroke-width="2.6"/>
<line x1="613.4" y1="126.0" x2="598.4" y2="137.0" stroke="#dedede" stroke-opacity="0.9" stroke-width="2.6"/>
<line x1="613.4" y1="126.0" x2="611.1" y2="143.7" stroke="#dedede" stroke-opacity="0.9" stroke-width="2.6"/>
<line x1="613.4" y1="126.0" x2="631.7" y2="137.0" stroke="#dedede" stroke-opacity="0.9" stroke-width="2.6"/>
<circle cx="613.4" cy="126.0" r="5.6" fill="url(#gy)"/>
<circle cx="494.5" cy="113.0" r="3.7" fill="url(#gb)"/>
<circle cx="494.2" cy="112.7" r="0.7" fill="#fff" fill-opacity="0.75"/>
<path d="M490.6,114.0 A3.9,3.9 0 0 0 498.4,114.0 Z" fill="#a4a4a4" fill-opacity="0.55"/>
<circle cx="527.8" cy="113.0" r="3.7" fill="url(#gb)"/>
<circle cx="527.5" cy="112.7" r="0.7" fill="#fff" fill-opacity="0.75"/>
<path d="M523.9,114.0 A3.9,3.9 0 0 0 531.7,114.0 Z" fill="#a4a4a4" fill-opacity="0.55"/>
<circle cx="561.1" cy="113.0" r="3.7" fill="url(#gb)"/>
<circle cx="560.8" cy="112.7" r="0.7" fill="#fff" fill-opacity="0.75"/>
<path d="M557.2,114.0 A3.9,3.9 0 0 0 565.0,114.0 Z" fill="#a4a4a4" fill-opacity="0.55"/>
<circle cx="594.4" cy="113.0" r="3.7" fill="url(#gb)"/>
<circle cx="594.1" cy="112.7" r="0.7" fill="#fff" fill-opacity="0.75"/>
<path d="M590.5,114.0 A3.9,3.9 0 0 0 598.3,114.0 Z" fill="#a4a4a4" fill-opacity="0.55"/>
<circle cx="461.2" cy="113.0" r="4.0" fill="url(#gb)"/>
<circle cx="460.9" cy="112.7" r="0.7" fill="#fff" fill-opacity="0.75"/>
<circle cx="628.0" cy="112.2" r="3.7" fill="url(#gb)"/>
<circle cx="627.7" cy="111.9" r="0.7" fill="#fff" fill-opacity="0.75"/>
<circle cx="482.2" cy="106.0" r="4.1" fill="url(#gb)"/>
<circle cx="481.9" cy="105.7" r="0.7" fill="#fff" fill-opacity="0.75"/>
<circle cx="515.5" cy="106.0" r="4.1" fill="url(#gb)"/>
<circle cx="515.2" cy="105.7" r="0.7" fill="#fff" fill-opacity="0.75"/>
<circle cx="548.8" cy="106.0" r="4.1" fill="url(#gb)"/>
<circle cx="548.5" cy="105.7" r="0.7" fill="#fff" fill-opacity="0.75"/>
<circle cx="582.1" cy="106.0" r="4.1" fill="url(#gb)"/>
<circle cx="581.8" cy="105.7" r="0.7" fill="#fff" fill-opacity="0.75"/>
<circle cx="615.4" cy="106.0" r="4.1" fill="url(#gb)"/>
<circle cx="615.1" cy="105.7" r="0.7" fill="#fff" fill-opacity="0.75"/>
<circle cx="465.2" cy="137.0" r="4.0" fill="url(#gg)"/>
<circle cx="464.9" cy="136.7" r="0.7" fill="#fff" fill-opacity="0.75"/>
<circle cx="498.5" cy="137.0" r="4.0" fill="url(#gg)"/>
<circle cx="498.2" cy="136.7" r="0.7" fill="#fff" fill-opacity="0.75"/>
<circle cx="477.9" cy="143.7" r="4.0" fill="url(#gg)"/>
<circle cx="477.6" cy="143.4" r="0.7" fill="#fff" fill-opacity="0.75"/>
<circle cx="498.5" cy="137.0" r="4.0" fill="url(#gg)"/>
<circle cx="498.2" cy="136.7" r="0.7" fill="#fff" fill-opacity="0.75"/>
<circle cx="531.8" cy="137.0" r="4.0" fill="url(#gg)"/>
<circle cx="531.5" cy="136.7" r="0.7" fill="#fff" fill-opacity="0.75"/>
<circle cx="511.2" cy="143.7" r="4.0" fill="url(#gg)"/>
<circle cx="510.9" cy="143.4" r="0.7" fill="#fff" fill-opacity="0.75"/>
<circle cx="531.8" cy="137.0" r="4.0" fill="url(#gg)"/>
<circle cx="531.5" cy="136.7" r="0.7" fill="#fff" fill-opacity="0.75"/>
<circle cx="565.1" cy="137.0" r="4.0" fill="url(#gg)"/>
<circle cx="564.8" cy="136.7" r="0.7" fill="#fff" fill-opacity="0.75"/>
<circle cx="544.5" cy="143.7" r="4.0" fill="url(#gg)"/>
<circle cx="544.2" cy="143.4" r="0.7" fill="#fff" fill-opacity="0.75"/>
<circle cx="565.1" cy="137.0" r="4.0" fill="url(#gg)"/>
<circle cx="564.8" cy="136.7" r="0.7" fill="#fff" fill-opacity="0.75"/>
<circle cx="598.4" cy="137.0" r="4.0" fill="url(#gg)"/>
<circle cx="598.1" cy="136.7" r="0.7" fill="#fff" fill-opacity="0.75"/>
<circle cx="577.8" cy="143.7" r="4.0" fill="url(#gg)"/>
<circle cx="577.5" cy="143.4" r="0.7" fill="#fff" fill-opacity="0.75"/>
<circle cx="598.4" cy="137.0" r="4.0" fill="url(#gg)"/>
<circle cx="598.1" cy="136.7" r="0.7" fill="#fff" fill-opacity="0.75"/>
<circle cx="631.7" cy="137.0" r="4.0" fill="url(#gg)"/>
<circle cx="631.4" cy="136.7" r="0.7" fill="#fff" fill-opacity="0.75"/>
<circle cx="611.1" cy="143.7" r="4.0" fill="url(#gg)"/>
<circle cx="610.8" cy="143.4" r="0.7" fill="#fff" fill-opacity="0.75"/>
<text x="39" y="177.9" font-size="21">(c)</text>
<rect x="68.10" y="170.60" width="32.47" height="29.58" fill="#ffffff" stroke="#1c3370" stroke-width="1.4"/>
<rect x="620.13" y="170.60" width="32.47" height="29.58" fill="#ffffff" stroke="#1c3370" stroke-width="1.4"/>
<rect x="68.10" y="200.18" width="32.47" height="29.58" fill="#ffcb00" stroke="#1c3370" stroke-width="1.4"/>
<rect x="100.57" y="200.18" width="32.47" height="29.58" fill="#ffcb00" stroke="#1c3370" stroke-width="1.4"/>
<rect x="457.77" y="200.18" width="32.47" height="29.58" fill="#ffcb00" stroke="#1c3370" stroke-width="1.4"/>
<rect x="490.24" y="200.18" width="32.47" height="29.58" fill="#ffcb00" stroke="#1c3370" stroke-width="1.4"/>
<rect x="522.71" y="200.18" width="32.47" height="29.58" fill="#ffcb00" stroke="#1c3370" stroke-width="1.4"/>
<rect x="555.18" y="200.18" width="32.47" height="29.58" fill="#a6a6a6" stroke="#1c3370" stroke-width="1.4"/>
<rect x="587.66" y="200.18" width="32.47" height="29.58" fill="#3f7399" stroke="#1c3370" stroke-width="1.4"/>
<rect x="620.13" y="200.18" width="32.47" height="29.58" fill="#ffffff" stroke="#1c3370" stroke-width="1.4"/>
<rect x="68.10" y="229.77" width="32.47" height="29.58" fill="#ffcb00" stroke="#1c3370" stroke-width="1.4"/>
<rect x="100.57" y="229.77" width="32.47" height="29.58" fill="#ffcb00" stroke="#1c3370" stroke-width="1.4"/>
<rect x="457.77" y="229.77" width="32.47" height="29.58" fill="#ffcb00" stroke="#1c3370" stroke-width="1.4"/>
<rect x="490.24" y="229.77" width="32.47" height="29.58" fill="#ffcb00" stroke="#1c3370" stroke-width="1.4"/>
<rect x="522.71" y="229.77" width="32.47" height="29.58" fill="#ffcb00" stroke="#1c3370" stroke-width="1.4"/>
<rect x="555.18" y="229.77" width="32.47" height="29.58" fill="#a6a6a6" stroke="#1c3370" stroke-width="1.4"/>
<rect x="587.66" y="229.77" width="32.47" height="29.58" fill="#3f7399" stroke="#1c3370" stroke-width="1.4"/>
<rect x="620.13" y="229.77" width="32.47" height="29.58" fill="#ffffff" stroke="#1c3370" stroke-width="1.4"/>
<rect x="68.10" y="259.35" width="32.47" height="29.58" fill="#ffcb00" stroke="#1c3370" stroke-width="1.4"/>
<rect x="100.57" y="259.35" width="32.47" height="29.58" fill="#ffcb00" stroke="#1c3370" stroke-width="1.4"/>
<rect x="133.04" y="259.35" width="32.47" height="29.58" fill="#ffcb00" stroke="#1c3370" stroke-width="1.4"/>
<rect x="165.52" y="259.35" width="32.47" height="29.58" fill="#ffcb00" stroke="#1c3370" stroke-width="1.4"/>
<rect x="197.99" y="259.35" width="32.47" height="29.58" fill="#ffcb00" stroke="#1c3370" stroke-width="1.4"/>
<rect x="230.46" y="259.35" width="32.47" height="29.58" fill="#ffcb00" stroke="#1c3370" stroke-width="1.4"/>
<rect x="262.93" y="259.35" width="32.47" height="29.58" fill="#ffcb00" stroke="#1c3370" stroke-width="1.4"/>
<rect x="295.41" y="259.35" width="32.47" height="29.58" fill="#ffcb00" stroke="#1c3370" stroke-width="1.4"/>
<rect x="327.88" y="259.35" width="32.47" height="29.58" fill="#ffcb00" stroke="#1c3370" stroke-width="1.4"/>
<rect x="360.35" y="259.35" width="32.47" height="29.58" fill="#ffcb00" stroke="#1c3370" stroke-width="1.4"/>
<rect x="392.82" y="259.35" width="32.47" height="29.58" fill="#ffcb00" stroke="#1c3370" stroke-width="1.4"/>
<rect x="425.29" y="259.35" width="32.47" height="29.58" fill="#ffcb00" stroke="#1c3370" stroke-width="1.4"/>
<rect x="457.77" y="259.35" width="32.47" height="29.58" fill="#ffcb00" stroke="#1c3370" stroke-width="1.4"/>
<rect x="490.24" y="259.35" width="32.47" height="29.58" fill="#ffcb00" stroke="#1c3370" stroke-width="1.4"/>
<rect x="522.71" y="259.35" width="32.47" height="29.58" fill="#ffcb00" stroke="#1c3370" stroke-width="1.4"/>
<rect x="555.18" y="259.35" width="32.47" height="29.58" fill="#a6a6a6" stroke="#1c3370" stroke-width="1.4"/>
<rect x="587.66" y="259.35" width="32.47" height="29.58" fill="#3f7399" stroke="#1c3370" stroke-width="1.4"/>
<rect x="620.13" y="259.35" width="32.47" height="29.58" fill="#ffffff" stroke="#1c3370" stroke-width="1.4"/>
<rect x="68.10" y="288.93" width="32.47" height="29.58" fill="#ffcb00" stroke="#1c3370" stroke-width="1.4"/>
<rect x="100.57" y="288.93" width="32.47" height="29.58" fill="#ffcb00" stroke="#1c3370" stroke-width="1.4"/>
<rect x="133.04" y="288.93" width="32.47" height="29.58" fill="#ffcb00" stroke="#1c3370" stroke-width="1.4"/>
<rect x="165.52" y="288.93" width="32.47" height="29.58" fill="#ffcb00" stroke="#1c3370" stroke-width="1.4"/>
<rect x="197.99" y="288.93" width="32.47" height="29.58" fill="#ffcb00" stroke="#1c3370" stroke-width="1.4"/>
<rect x="230.46" y="288.93" width="32.47" height="29.58" fill="#ffcb00" stroke="#1c3370" stroke-width="1.4"/>
<rect x="262.93" y="288.93" width="32.47" height="29.58" fill="#ffcb00" stroke="#1c3370" stroke-width="1.4"/>
<rect x="295.41" y="288.93" width="32.47" height="29.58" fill="#ffcb00" stroke="#1c3370" stroke-width="1.4"/>
<rect x="327.88" y="288.93" width="32.47" height="29.58" fill="#ffcb00" stroke="#1c3370" stroke-width="1.4"/>
<rect x="360.35" y="288.93" width="32.47" height="29.58" fill="#ffcb00" stroke="#1c3370" stroke-width="1.4"/>
<rect x="392.82" y="288.93" width="32.47" height="29.58" fill="#ffcb00" stroke="#1c3370" stroke-width="1.4"/>
<rect x="425.29" y="288.93" width="32.47" height="29.58" fill="#ffcb00" stroke="#1c3370" stroke-width="1.4"/>
<rect x="457.77" y="288.93" width="32.47" height="29.58" fill="#ffcb00" stroke="#1c3370" stroke-width="1.4"/>
<rect x="490.24" y="288.93" width="32.47" height="29.58" fill="#ffcb00" stroke="#1c3370" stroke-width="1.4"/>
<rect x="522.71" y="288.93" width="32.47" height="29.58" fill="#ffcb00" stroke="#1c3370" stroke-width="1.4"/>
<rect x="555.18" y="288.93" width="32.47" height="29.58" fill="#ffffff" stroke="#1c3370" stroke-width="1.4"/>
<rect x="587.66" y="288.93" width="32.47" height="29.58" fill="#ffffff" stroke="#1c3370" stroke-width="1.4"/>
<rect x="620.13" y="288.93" width="32.47" height="29.58" fill="#ffffff" stroke="#1c3370" stroke-width="1.4"/>
<rect x="68.10" y="318.52" width="32.47" height="29.58" fill="#ffcb00" stroke="#1c3370" stroke-width="1.4"/>
<rect x="100.57" y="318.52" width="32.47" height="29.58" fill="#ffcb00" stroke="#1c3370" stroke-width="1.4"/>
<rect x="133.04" y="318.52" width="32.47" height="29.58" fill="#ffcb00" stroke="#1c3370" stroke-width="1.4"/>
<rect x="165.52" y="318.52" width="32.47" height="29.58" fill="#ffcb00" stroke="#1c3370" stroke-width="1.4"/>
<rect x="197.99" y="318.52" width="32.47" height="29.58" fill="#ffcb00" stroke="#1c3370" stroke-width="1.4"/>
<rect x="230.46" y="318.52" width="32.47" height="29.58" fill="#ffcb00" stroke="#1c3370" stroke-width="1.4"/>
<rect x="262.93" y="318.52" width="32.47" height="29.58" fill="#ffcb00" stroke="#1c3370" stroke-width="1.4"/>
<rect x="295.41" y="318.52" width="32.47" height="29.58" fill="#ffcb00" stroke="#1c3370" stroke-width="1.4"/>
<rect x="327.88" y="318.52" width="32.47" height="29.58" fill="#ffcb00" stroke="#1c3370" stroke-width="1.4"/>
<rect x="360.35" y="318.52" width="32.47" height="29.58" fill="#ffcb00" stroke="#1c3370" stroke-width="1.4"/>
<rect x="392.82" y="318.52" width="32.47" height="29.58" fill="#ffcb00" stroke="#1c3370" stroke-width="1.4"/>
<rect x="425.29" y="318.52" width="32.47" height="29.58" fill="#ffcb00" stroke="#1c3370" stroke-width="1.4"/>
<rect x="457.77" y="318.52" width="32.47" height="29.58" fill="#ffcb00" stroke="#1c3370" stroke-width="1.4"/>
<rect x="490.24" y="318.52" width="32.47" height="29.58" fill="#ffcb00" stroke="#1c3370" stroke-width="1.4"/>
<rect x="522.71" y="318.52" width="32.47" height="29.58" fill="#ffffff" stroke="#1c3370" stroke-width="1.4"/>
<rect x="555.18" y="318.52" width="32.47" height="29.58" fill="#a6a6a6" stroke="#1c3370" stroke-width="1.4"/>
<rect x="587.66" y="318.52" width="32.47" height="29.58" fill="#3f7399" stroke="#1c3370" stroke-width="1.4"/>
<rect x="620.13" y="318.52" width="32.47" height="29.58" fill="#ffffff" stroke="#1c3370" stroke-width="1.4"/>
<text x="84.34" y="189.59" font-size="13.5" text-anchor="middle" fill="#111">H</text>
<text x="636.36" y="189.59" font-size="13.5" text-anchor="middle" fill="#111">He</text>
<text x="84.34" y="219.17" font-size="13.5" text-anchor="middle" fill="#111">Li</text>
<text x="116.81" y="219.17" font-size="13.5" text-anchor="middle" fill="#111">Be</text>
<text x="474.00" y="219.17" font-size="13.5" text-anchor="middle" fill="#111">B</text>
<text x="506.47" y="219.17" font-size="13.5" text-anchor="middle" fill="#111">C</text>
<text x="538.95" y="219.17" font-size="13.5" text-anchor="middle" fill="#111">N</text>
<text x="571.42" y="219.17" font-size="13.5" text-anchor="middle" fill="#111">O</text>
<text x="603.89" y="219.17" font-size="13.5" text-anchor="middle" fill="#111">F</text>
<text x="636.36" y="219.17" font-size="13.5" text-anchor="middle" fill="#111">Ne</text>
<text x="84.34" y="248.76" font-size="13.5" text-anchor="middle" fill="#111">Na</text>
<text x="116.81" y="248.76" font-size="13.5" text-anchor="middle" fill="#111">Mg</text>
<text x="474.00" y="248.76" font-size="13.5" text-anchor="middle" fill="#111">Al</text>
<text x="506.47" y="248.76" font-size="13.5" text-anchor="middle" fill="#111">Si</text>
<text x="538.95" y="248.76" font-size="13.5" text-anchor="middle" fill="#111">P</text>
<text x="571.42" y="248.76" font-size="13.5" text-anchor="middle" fill="#111">S</text>
<text x="603.89" y="248.76" font-size="13.5" text-anchor="middle" fill="#111">Cl</text>
<text x="636.36" y="248.76" font-size="13.5" text-anchor="middle" fill="#111">Ar</text>
<text x="84.34" y="278.34" font-size="13.5" text-anchor="middle" fill="#111">K</text>
<text x="116.81" y="278.34" font-size="13.5" text-anchor="middle" fill="#111">Ca</text>
<text x="149.28" y="278.34" font-size="13.5" text-anchor="middle" fill="#111">Sc</text>
<text x="181.75" y="278.34" font-size="13.5" text-anchor="middle" fill="#111">Ti</text>
<text x="214.22" y="278.34" font-size="13.5" text-anchor="middle" fill="#111">V</text>
<text x="246.70" y="278.34" font-size="13.5" text-anchor="middle" fill="#111">Cr</text>
<text x="279.17" y="278.34" font-size="13.5" text-anchor="middle" fill="#111">Mn</text>
<text x="311.64" y="278.34" font-size="13.5" text-anchor="middle" fill="#111">Fe</text>
<text x="344.11" y="278.34" font-size="13.5" text-anchor="middle" fill="#111">Co</text>
<text x="376.59" y="278.34" font-size="13.5" text-anchor="middle" fill="#111">Ni</text>
<text x="409.06" y="278.34" font-size="13.5" text-anchor="middle" fill="#111">Cu</text>
<text x="441.53" y="278.34" font-size="13.5" text-anchor="middle" fill="#111">Zn</text>
<text x="474.00" y="278.34" font-size="13.5" text-anchor="middle" fill="#111">Ga</text>
<text x="506.47" y="278.34" font-size="13.5" text-anchor="middle" fill="#111">Ge</text>
<text x="538.95" y="278.34" font-size="13.5" text-anchor="middle" fill="#111">As</text>
<text x="571.42" y="278.34" font-size="13.5" text-anchor="middle" fill="#111">Se</text>
<text x="603.89" y="278.34" font-size="13.5" text-anchor="middle" fill="#111">Br</text>
<text x="636.36" y="278.34" font-size="13.5" text-anchor="middle" fill="#111">Kr</text>
<text x="84.34" y="307.93" font-size="13.5" text-anchor="middle" fill="#111">Rb</text>
<text x="116.81" y="307.93" font-size="13.5" text-anchor="middle" fill="#111">Sr</text>
<text x="149.28" y="307.93" font-size="13.5" text-anchor="middle" fill="#111">Y</text>
<text x="181.75" y="307.93" font-size="13.5" text-anchor="middle" fill="#111">Zr</text>
<text x="214.22" y="307.93" font-size="13.5" text-anchor="middle" fill="#111">Nb</text>
<text x="246.70" y="307.93" font-size="13.5" text-anchor="middle" fill="#111">Mo</text>
<text x="279.17" y="307.93" font-size="13.5" text-anchor="middle" fill="#111">Tc</text>
<text x="311.64" y="307.93" font-size="13.5" text-anchor="middle" fill="#111">Ru</text>
<text x="344.11" y="307.93" font-size="13.5" text-anchor="middle" fill="#111">Rh</text>
<text x="376.59" y="307.93" font-size="13.5" text-anchor="middle" fill="#111">Pd</text>
<text x="409.06" y="307.93" font-size="13.5" text-anchor="middle" fill="#111">Ag</text>
<text x="441.53" y="307.93" font-size="13.5" text-anchor="middle" fill="#111">Cd</text>
<text x="474.00" y="307.93" font-size="13.5" text-anchor="middle" fill="#111">In</text>
<text x="506.47" y="307.93" font-size="13.5" text-anchor="middle" fill="#111">Sn</text>
<text x="538.95" y="307.93" font-size="13.5" text-anchor="middle" fill="#111">Sb</text>
<text x="571.42" y="307.93" font-size="13.5" text-anchor="middle" fill="#111">Te</text>
<text x="603.89" y="307.93" font-size="13.5" text-anchor="middle" fill="#111">I</text>
<text x="636.36" y="307.93" font-size="13.5" text-anchor="middle" fill="#111">Xe</text>
<text x="84.34" y="337.51" font-size="13.5" text-anchor="middle" fill="#111">Cs</text>
<text x="116.81" y="337.51" font-size="13.5" text-anchor="middle" fill="#111">Ba</text>
<text x="149.28" y="337.51" font-size="13.5" text-anchor="middle" fill="#111">La</text>
<text x="181.75" y="337.51" font-size="13.5" text-anchor="middle" fill="#111">Hf</text>
<text x="214.22" y="337.51" font-size="13.5" text-anchor="middle" fill="#111">Ta</text>
<text x="246.70" y="337.51" font-size="13.5" text-anchor="middle" fill="#111">W</text>
<text x="279.17" y="337.51" font-size="13.5" text-anchor="middle" fill="#111">Re</text>
<text x="311.64" y="337.51" font-size="13.5" text-anchor="middle" fill="#111">Os</text>
<text x="344.11" y="337.51" font-size="13.5" text-anchor="middle" fill="#111">Ir</text>
<text x="376.59" y="337.51" font-size="13.5" text-anchor="middle" fill="#111">Pt</text>
<text x="409.06" y="337.51" font-size="13.5" text-anchor="middle" fill="#111">Au</text>
<text x="441.53" y="337.51" font-size="13.5" text-anchor="middle" fill="#111">Hg</text>
<text x="474.00" y="337.51" font-size="13.5" text-anchor="middle" fill="#111">Tl</text>
<text x="506.47" y="337.51" font-size="13.5" text-anchor="middle" fill="#111">Pb</text>
<text x="538.95" y="337.51" font-size="13.5" text-anchor="middle" fill="#111">Bi</text>
<text x="571.42" y="337.51" font-size="13.5" text-anchor="middle" fill="#111">Po</text>
<text x="603.89" y="337.51" font-size="13.5" text-anchor="middle" fill="#111">At</text>
<text x="636.36" y="337.51" font-size="13.5" text-anchor="middle" fill="#111">Rn</text>
<text x="153.9" y="179.9" font-size="14.3" fill="#111">Elements (0.11 doping content) were doped into</text>
<rect x="148.3" y="189.6" width="14.6" height="13.7" fill="#ffcb00" stroke="#1c3370" stroke-width="1.4"/>
<rect x="258.6" y="189.7" width="14.6" height="13.7" fill="#a6a6a6" stroke="#1c3370" stroke-width="1.4"/>
<rect x="372.6" y="188.8" width="14.6" height="13.7" fill="#3f7399" stroke="#1c3370" stroke-width="1.4"/>
<text x="175.3" y="202.5" font-size="14.3" fill="#111">Bi position</text>
<text x="285.2" y="202.7" font-size="14.3" fill="#111">Te position</text>
<text x="399.6" y="201" font-size="14.3" fill="#111">I position</text>
<text x="-0.6" y="373.9" font-size="21">(d)</text>
<rect x="63.5" y="424.2" width="616.8" height="50.4" fill="url(#hatch)"/>
<line x1="63.5" y1="424.2" x2="680.3" y2="424.2" stroke="#a8a8a8" stroke-width="1" stroke-dasharray="2 6.12" stroke-dashoffset="2.72"/>
<line x1="63.5" y1="474.6" x2="680.3" y2="474.6" stroke="#a8a8a8" stroke-width="1" stroke-dasharray="2 6.12" stroke-dashoffset="2.72"/>
<text x="69.2" y="453.3" font-size="17.6">optimal</text>
<text class="sf" transform="translate(132.4 453.3) scale(1.12 1)" font-size="19.5" font-style="italic">α</text>
<text x="143.6" y="460.4" font-size="11.5" font-style="italic">R</text>
<text x="156.2" y="453.3" font-size="18.1">range for <tspan font-style="italic">PF</tspan>s</text>
<line x1="62.4" y1="376.6" x2="62.4" y2="629.4" stroke="#222" stroke-width="1.4"/>
<line x1="680.3" y1="376.6" x2="680.3" y2="629.4" stroke="#222" stroke-width="1.4"/>
<line x1="58.2" y1="376.6" x2="685" y2="376.6" stroke="#222" stroke-width="1.4"/>
<line x1="58.2" y1="629.4" x2="685" y2="629.4" stroke="#222" stroke-width="1.4"/>
<line x1="58.2" y1="629.40" x2="62.4" y2="629.40" stroke="#222" stroke-width="1.3"/>
<line x1="680.3" y1="629.40" x2="685" y2="629.40" stroke="#222" stroke-width="1.3"/>
<line x1="59.9" y1="623.78" x2="62.4" y2="623.78" stroke="#222" stroke-width="1.1"/>
<line x1="680.3" y1="623.78" x2="682.8" y2="623.78" stroke="#222" stroke-width="1.1"/>
<line x1="59.9" y1="618.16" x2="62.4" y2="618.16" stroke="#222" stroke-width="1.1"/>
<line x1="680.3" y1="618.16" x2="682.8" y2="618.16" stroke="#222" stroke-width="1.1"/>
<line x1="59.9" y1="612.55" x2="62.4" y2="612.55" stroke="#222" stroke-width="1.1"/>
<line x1="680.3" y1="612.55" x2="682.8" y2="612.55" stroke="#222" stroke-width="1.1"/>
<line x1="59.9" y1="606.93" x2="62.4" y2="606.93" stroke="#222" stroke-width="1.1"/>
<line x1="680.3" y1="606.93" x2="682.8" y2="606.93" stroke="#222" stroke-width="1.1"/>
<line x1="58.2" y1="601.31" x2="62.4" y2="601.31" stroke="#222" stroke-width="1.3"/>
<line x1="680.3" y1="601.31" x2="685" y2="601.31" stroke="#222" stroke-width="1.3"/>
<line x1="59.9" y1="595.69" x2="62.4" y2="595.69" stroke="#222" stroke-width="1.1"/>
<line x1="680.3" y1="595.69" x2="682.8" y2="595.69" stroke="#222" stroke-width="1.1"/>
<line x1="59.9" y1="590.07" x2="62.4" y2="590.07" stroke="#222" stroke-width="1.1"/>
<line x1="680.3" y1="590.07" x2="682.8" y2="590.07" stroke="#222" stroke-width="1.1"/>
<line x1="59.9" y1="584.46" x2="62.4" y2="584.46" stroke="#222" stroke-width="1.1"/>
<line x1="680.3" y1="584.46" x2="682.8" y2="584.46" stroke="#222" stroke-width="1.1"/>
<line x1="59.9" y1="578.84" x2="62.4" y2="578.84" stroke="#222" stroke-width="1.1"/>
<line x1="680.3" y1="578.84" x2="682.8" y2="578.84" stroke="#222" stroke-width="1.1"/>
<line x1="58.2" y1="573.22" x2="62.4" y2="573.22" stroke="#222" stroke-width="1.3"/>
<line x1="680.3" y1="573.22" x2="685" y2="573.22" stroke="#222" stroke-width="1.3"/>
<line x1="59.9" y1="567.60" x2="62.4" y2="567.60" stroke="#222" stroke-width="1.1"/>
<line x1="680.3" y1="567.60" x2="682.8" y2="567.60" stroke="#222" stroke-width="1.1"/>
<line x1="59.9" y1="561.98" x2="62.4" y2="561.98" stroke="#222" stroke-width="1.1"/>
<line x1="680.3" y1="561.98" x2="682.8" y2="561.98" stroke="#222" stroke-width="1.1"/>
<line x1="59.9" y1="556.37" x2="62.4" y2="556.37" stroke="#222" stroke-width="1.1"/>
<line x1="680.3" y1="556.37" x2="682.8" y2="556.37" stroke="#222" stroke-width="1.1"/>
<line x1="59.9" y1="550.75" x2="62.4" y2="550.75" stroke="#222" stroke-width="1.1"/>
<line x1="680.3" y1="550.75" x2="682.8" y2="550.75" stroke="#222" stroke-width="1.1"/>
<line x1="58.2" y1="545.13" x2="62.4" y2="545.13" stroke="#222" stroke-width="1.3"/>
<line x1="680.3" y1="545.13" x2="685" y2="545.13" stroke="#222" stroke-width="1.3"/>
<line x1="59.9" y1="539.51" x2="62.4" y2="539.51" stroke="#222" stroke-width="1.1"/>
<line x1="680.3" y1="539.51" x2="682.8" y2="539.51" stroke="#222" stroke-width="1.1"/>
<line x1="59.9" y1="533.89" x2="62.4" y2="533.89" stroke="#222" stroke-width="1.1"/>
<line x1="680.3" y1="533.89" x2="682.8" y2="533.89" stroke="#222" stroke-width="1.1"/>
<line x1="59.9" y1="528.28" x2="62.4" y2="528.28" stroke="#222" stroke-width="1.1"/>
<line x1="680.3" y1="528.28" x2="682.8" y2="528.28" stroke="#222" stroke-width="1.1"/>
<line x1="59.9" y1="522.66" x2="62.4" y2="522.66" stroke="#222" stroke-width="1.1"/>
<line x1="680.3" y1="522.66" x2="682.8" y2="522.66" stroke="#222" stroke-width="1.1"/>
<line x1="58.2" y1="517.04" x2="62.4" y2="517.04" stroke="#222" stroke-width="1.3"/>
<line x1="680.3" y1="517.04" x2="685" y2="517.04" stroke="#222" stroke-width="1.3"/>
<line x1="59.9" y1="511.42" x2="62.4" y2="511.42" stroke="#222" stroke-width="1.1"/>
<line x1="680.3" y1="511.42" x2="682.8" y2="511.42" stroke="#222" stroke-width="1.1"/>
<line x1="59.9" y1="505.80" x2="62.4" y2="505.80" stroke="#222" stroke-width="1.1"/>
<line x1="680.3" y1="505.80" x2="682.8" y2="505.80" stroke="#222" stroke-width="1.1"/>
<line x1="59.9" y1="500.19" x2="62.4" y2="500.19" stroke="#222" stroke-width="1.1"/>
<line x1="680.3" y1="500.19" x2="682.8" y2="500.19" stroke="#222" stroke-width="1.1"/>
<line x1="59.9" y1="494.57" x2="62.4" y2="494.57" stroke="#222" stroke-width="1.1"/>
<line x1="680.3" y1="494.57" x2="682.8" y2="494.57" stroke="#222" stroke-width="1.1"/>
<line x1="58.2" y1="488.95" x2="62.4" y2="488.95" stroke="#222" stroke-width="1.3"/>
<line x1="680.3" y1="488.95" x2="685" y2="488.95" stroke="#222" stroke-width="1.3"/>
<line x1="59.9" y1="483.33" x2="62.4" y2="483.33" stroke="#222" stroke-width="1.1"/>
<line x1="680.3" y1="483.33" x2="682.8" y2="483.33" stroke="#222" stroke-width="1.1"/>
<line x1="59.9" y1="477.71" x2="62.4" y2="477.71" stroke="#222" stroke-width="1.1"/>
<line x1="680.3" y1="477.71" x2="682.8" y2="477.71" stroke="#222" stroke-width="1.1"/>
<line x1="59.9" y1="472.10" x2="62.4" y2="472.10" stroke="#222" stroke-width="1.1"/>
<line x1="680.3" y1="472.10" x2="682.8" y2="472.10" stroke="#222" stroke-width="1.1"/>
<line x1="59.9" y1="466.48" x2="62.4" y2="466.48" stroke="#222" stroke-width="1.1"/>
<line x1="680.3" y1="466.48" x2="682.8" y2="466.48" stroke="#222" stroke-width="1.1"/>
<line x1="58.2" y1="460.86" x2="62.4" y2="460.86" stroke="#222" stroke-width="1.3"/>
<line x1="680.3" y1="460.86" x2="685" y2="460.86" stroke="#222" stroke-width="1.3"/>
<line x1="59.9" y1="455.24" x2="62.4" y2="455.24" stroke="#222" stroke-width="1.1"/>
<line x1="680.3" y1="455.24" x2="682.8" y2="455.24" stroke="#222" stroke-width="1.1"/>
<line x1="59.9" y1="449.62" x2="62.4" y2="449.62" stroke="#222" stroke-width="1.1"/>
<line x1="680.3" y1="449.62" x2="682.8" y2="449.62" stroke="#222" stroke-width="1.1"/>
<line x1="59.9" y1="444.01" x2="62.4" y2="444.01" stroke="#222" stroke-width="1.1"/>
<line x1="680.3" y1="444.01" x2="682.8" y2="444.01" stroke="#222" stroke-width="1.1"/>
<line x1="59.9" y1="438.39" x2="62.4" y2="438.39" stroke="#222" stroke-width="1.1"/>
<line x1="680.3" y1="438.39" x2="682.8" y2="438.39" stroke="#222" stroke-width="1.1"/>
<line x1="58.2" y1="432.77" x2="62.4" y2="432.77" stroke="#222" stroke-width="1.3"/>
<line x1="680.3" y1="432.77" x2="685" y2="432.77" stroke="#222" stroke-width="1.3"/>
<line x1="59.9" y1="427.15" x2="62.4" y2="427.15" stroke="#222" stroke-width="1.1"/>
<line x1="680.3" y1="427.15" x2="682.8" y2="427.15" stroke="#222" stroke-width="1.1"/>
<line x1="59.9" y1="421.53" x2="62.4" y2="421.53" stroke="#222" stroke-width="1.1"/>
<line x1="680.3" y1="421.53" x2="682.8" y2="421.53" stroke="#222" stroke-width="1.1"/>
<line x1="59.9" y1="415.92" x2="62.4" y2="415.92" stroke="#222" stroke-width="1.1"/>
<line x1="680.3" y1="415.92" x2="682.8" y2="415.92" stroke="#222" stroke-width="1.1"/>
<line x1="59.9" y1="410.30" x2="62.4" y2="410.30" stroke="#222" stroke-width="1.1"/>
<line x1="680.3" y1="410.30" x2="682.8" y2="410.30" stroke="#222" stroke-width="1.1"/>
<line x1="58.2" y1="404.68" x2="62.4" y2="404.68" stroke="#222" stroke-width="1.3"/>
<line x1="680.3" y1="404.68" x2="685" y2="404.68" stroke="#222" stroke-width="1.3"/>
<line x1="59.9" y1="399.06" x2="62.4" y2="399.06" stroke="#222" stroke-width="1.1"/>
<line x1="680.3" y1="399.06" x2="682.8" y2="399.06" stroke="#222" stroke-width="1.1"/>
<line x1="59.9" y1="393.44" x2="62.4" y2="393.44" stroke="#222" stroke-width="1.1"/>
<line x1="680.3" y1="393.44" x2="682.8" y2="393.44" stroke="#222" stroke-width="1.1"/>
<line x1="59.9" y1="387.83" x2="62.4" y2="387.83" stroke="#222" stroke-width="1.1"/>
<line x1="680.3" y1="387.83" x2="682.8" y2="387.83" stroke="#222" stroke-width="1.1"/>
<line x1="59.9" y1="382.21" x2="62.4" y2="382.21" stroke="#222" stroke-width="1.1"/>
<line x1="680.3" y1="382.21" x2="682.8" y2="382.21" stroke="#222" stroke-width="1.1"/>
<line x1="58.2" y1="376.59" x2="62.4" y2="376.59" stroke="#222" stroke-width="1.3"/>
<line x1="680.3" y1="376.59" x2="685" y2="376.59" stroke="#222" stroke-width="1.3"/>
<line x1="96.80" y1="624.8" x2="96.80" y2="629.4" stroke="#222" stroke-width="1.2"/>
<line x1="131.10" y1="624.8" x2="131.10" y2="629.4" stroke="#222" stroke-width="1.2"/>
<line x1="165.40" y1="624.8" x2="165.40" y2="629.4" stroke="#222" stroke-width="1.2"/>
<line x1="199.70" y1="624.8" x2="199.70" y2="629.4" stroke="#222" stroke-width="1.2"/>
<line x1="234.00" y1="624.8" x2="234.00" y2="629.4" stroke="#222" stroke-width="1.2"/>
<line x1="268.30" y1="624.8" x2="268.30" y2="629.4" stroke="#222" stroke-width="1.2"/>
<line x1="302.60" y1="624.8" x2="302.60" y2="629.4" stroke="#222" stroke-width="1.2"/>
<line x1="336.90" y1="624.8" x2="336.90" y2="629.4" stroke="#222" stroke-width="1.2"/>
<line x1="371.20" y1="624.8" x2="371.20" y2="629.4" stroke="#222" stroke-width="1.2"/>
<line x1="405.50" y1="624.8" x2="405.50" y2="629.4" stroke="#222" stroke-width="1.2"/>
<line x1="439.80" y1="624.8" x2="439.80" y2="629.4" stroke="#222" stroke-width="1.2"/>
<line x1="474.10" y1="624.8" x2="474.10" y2="629.4" stroke="#222" stroke-width="1.2"/>
<line x1="508.40" y1="624.8" x2="508.40" y2="629.4" stroke="#222" stroke-width="1.2"/>
<line x1="542.70" y1="624.8" x2="542.70" y2="629.4" stroke="#222" stroke-width="1.2"/>
<line x1="577.00" y1="624.8" x2="577.00" y2="629.4" stroke="#222" stroke-width="1.2"/>
<line x1="611.30" y1="624.8" x2="611.30" y2="629.4" stroke="#222" stroke-width="1.2"/>
<line x1="645.60" y1="624.8" x2="645.60" y2="629.4" stroke="#222" stroke-width="1.2"/>
<text x="55.8" y="635.20" font-size="19" text-anchor="end">0.0</text>
<text x="55.8" y="607.11" font-size="19" text-anchor="end">0.5</text>
<text x="55.8" y="579.02" font-size="19" text-anchor="end">1.0</text>
<text x="55.8" y="550.93" font-size="19" text-anchor="end">1.5</text>
<text x="55.8" y="522.84" font-size="19" text-anchor="end">2.0</text>
<text x="55.8" y="494.75" font-size="19" text-anchor="end">2.5</text>
<text x="55.8" y="466.66" font-size="19" text-anchor="end">3.0</text>
<text x="55.8" y="438.57" font-size="19" text-anchor="end">3.5</text>
<text x="55.8" y="410.48" font-size="19" text-anchor="end">4.0</text>
<text x="55.8" y="382.39" font-size="19" text-anchor="end">4.5</text>
<text transform="translate(22.8 540.5) rotate(-90)" font-size="19.4"><tspan class="sf" font-style="italic" font-size="22">α</tspan><tspan font-size="13" dy="5" font-style="italic">R</tspan><tspan dy="-5">(eV•Å)</tspan></text>
<text x="97.5" y="649" font-size="15" text-anchor="middle">IA</text>
<text x="136" y="649" font-size="15" text-anchor="middle">IIA</text>
<text x="163" y="649" font-size="15" text-anchor="middle">IIIB</text>
<text x="196.7" y="649" font-size="15" text-anchor="middle">IVB</text>
<text x="232.9" y="649" font-size="15" text-anchor="middle">VB</text>
<text x="266" y="649" font-size="15" text-anchor="middle">VIB</text>
<text x="302" y="649" font-size="15" text-anchor="middle">VIIB</text>
<text x="338.8" y="649" font-size="15" text-anchor="middle">Fe</text>
<text x="375.7" y="649" font-size="15" text-anchor="middle">Co</text>
<text x="411" y="649" font-size="15" text-anchor="middle">Ni</text>
<text x="447.5" y="649" font-size="15" text-anchor="middle">IB</text>
<text x="482" y="649" font-size="15" text-anchor="middle">IIB</text>
<text x="517" y="649" font-size="15" text-anchor="middle">IIIA</text>
<text x="550.8" y="649" font-size="15" text-anchor="middle">IVA</text>
<text x="583.6" y="649" font-size="15" text-anchor="middle">VA</text>
<text x="602.7" y="649" font-size="15">VIA<tspan font-size="15" dy="5">Te</tspan></text>
<text x="643.9" y="649" font-size="15">VIIA<tspan font-size="12" dy="5">I</tspan></text>
<polygon points="96.8,589.5 107.9,601.5 96.8,613.5 85.7,601.5" fill="#ffcb00"/>
<polygon points="96.8,584.6 107.9,596.6 96.8,608.6 85.7,596.6" fill="#ffcb00"/>
<polygon points="96.8,571.0 107.9,583.0 96.8,595.0 85.7,583.0" fill="#ffcb00"/>
<polygon points="131.0,532.5 142.1,544.5 131.0,556.5 119.9,544.5" fill="#ffcb00"/>
<polygon points="131.0,526.8 142.1,538.8 131.0,550.8 119.9,538.8" fill="#ffcb00"/>
<polygon points="131.0,499.8 142.1,511.8 131.0,523.8 119.9,511.8" fill="#ffcb00"/>
<polygon points="165.3,515.3 176.4,527.3 165.3,539.3 154.2,527.3" fill="#ffcb00"/>
<polygon points="165.3,508.7 176.4,520.7 165.3,532.7 154.2,520.7" fill="#ffcb00"/>
<polygon points="371.3,491.6 382.4,503.6 371.3,515.6 360.2,503.6" fill="#ffcb00"/>
<polygon points="371.3,475.0 382.4,487.0 371.3,499.0 360.2,487.0" fill="#ffcb00"/>
<polygon points="439.9,561.5 451.0,573.5 439.9,585.5 428.8,573.5" fill="#ffcb00"/>
<polygon points="439.9,518.0 451.0,530.0 439.9,542.0 428.8,530.0" fill="#ffcb00"/>
<polygon points="474.3,567.5 485.4,579.5 474.3,591.5 463.2,579.5" fill="#ffcb00"/>
<polygon points="474.3,558.3 485.4,570.3 474.3,582.3 463.2,570.3" fill="#ffcb00"/>
<polygon points="474.3,546.0 485.4,558.0 474.3,570.0 463.2,558.0" fill="#ffcb00"/>
<polygon points="508.5,582.0 519.6,594.0 508.5,606.0 497.4,594.0" fill="#ffcb00"/>
<polygon points="508.5,559.5 519.6,571.5 508.5,583.5 497.4,571.5" fill="#ffcb00"/>
<polygon points="508.5,536.4 519.6,548.4 508.5,560.4 497.4,548.4" fill="#ffcb00"/>
<polygon points="508.5,476.5 519.6,488.5 508.5,500.5 497.4,488.5" fill="#ffcb00"/>
<polygon points="508.5,429.6 519.6,441.6 508.5,453.6 497.4,441.6" fill="#ffcb00"/>
<polygon points="542.7,432.4 553.8,444.4 542.7,456.4 531.6,444.4" fill="#ffcb00"/>
<polygon points="577.3,415.7 588.4,427.7 577.3,439.7 566.2,427.7" fill="#ffcb00"/>
<polygon points="577.3,410.8 588.4,422.8 577.3,434.8 566.2,422.8" fill="#ffcb00"/>
<polygon points="577.3,404.5 588.4,416.5 577.3,428.5 566.2,416.5" fill="#ffcb00"/>
<polygon points="611.5,419.0 622.6,431.0 611.5,443.0 600.4,431.0" fill="#a6a6a6"/>
<polygon points="611.5,416.7 622.6,428.7 611.5,440.7 600.4,428.7" fill="#a6a6a6"/>
<polygon points="645.7,544.7 656.8,556.7 645.7,568.7 634.6,556.7" fill="#3f7399"/>
<polygon points="645.7,469.1 656.8,481.1 645.7,493.1 634.6,481.1" fill="#3f7399"/>
<polygon points="645.7,388.5 656.8,400.5 645.7,412.5 634.6,400.5" fill="#3f7399"/>
<polygon points="645.8,411.6 655.3,421.1 645.8,430.6 636.3,421.1" fill="none" stroke="#0000ff" stroke-width="2.7"/>
<g clip-path="url(#poclip)">
<polygon points="611.5,364.9 622.6,376.9 611.5,388.9 600.4,376.9" fill="#a6a6a6"/>
</g>
<text x="88.5" y="586.2" font-size="18" fill="#000">Li</text>
<text x="87.3" y="602.2" font-size="18" fill="#000">Na</text>
<text x="89.4" y="617.8" font-size="18" fill="#000">K</text>
<text x="120.6" y="518.9" font-size="18" fill="#000">Be</text>
<text x="123.2" y="542.4" font-size="18" fill="#000">Sr</text>
<text x="120.6" y="558" font-size="18" fill="#000">Mg</text>
<text x="148.6" y="523.7" font-size="18" fill="#000">Y/La</text>
<text x="155" y="548.1" font-size="18" fill="#000">Sc</text>
<text x="171.5" y="486.1" font-size="18">Sc<tspan font-size="11.3" dy="7.6">0.06</tspan></text>
<text x="178.1" y="540.2" font-size="18">Sc<tspan font-size="11.3" dy="7.6">0.11</tspan></text>
<text x="173.2" y="585.1" font-size="18">Sc<tspan font-size="11.3" dy="7.6">0.25</tspan></text>
<text x="365.8" y="492.2" font-size="18" fill="#000">Ir</text>
<text x="348.4" y="510.2" font-size="18" fill="#000">Rh/Co</text>
<text x="409.4" y="483.8" font-size="18">Ag<tspan font-size="11.3" dy="7.6">0.06</tspan></text>
<text x="427.2" y="538.2" font-size="18" fill="#000">Au</text>
<text x="410.5" y="577.2" font-size="18">Ag<tspan font-size="11.3" dy="7.6">0.11</tspan></text>
<text x="408.9" y="598.5" font-size="18">Ag<tspan font-size="11.3" dy="7.6">0.25</tspan></text>
<text x="463.8" y="561.1" font-size="18" fill="#000">Zn</text>
<text x="463.8" y="577" font-size="18" fill="#000">Cd</text>
<text x="463.8" y="591.7" font-size="18" fill="#000">Hg</text>
<text x="501.1" y="447.5" font-size="18" fill="#ff0000">Tl</text>
<text x="505.5" y="493.6" font-size="18" fill="#000">B</text>
<text x="499.1" y="553.4" font-size="18" fill="#000">Al</text>
<text transform="translate(501.0 578.7) scale(1 1.24)" font-size="19.3">In</text>
<text x="499.2" y="597.8" font-size="18" fill="#000">Ga</text>
<text x="533.7" y="451.4" font-size="18" fill="#ff0000">Pb</text>
<text x="574.3" y="411.4" font-size="18" fill="#000">P</text>
<text x="570.8" y="433.6" font-size="18" fill="#ff0000">As</text>
<text x="571" y="450.2" font-size="18" fill="#ff0000">Sb</text>
<text x="601.4" y="392" font-size="18" fill="#000">Po</text>
<text x="605" y="428.7" font-size="18" fill="#ff0000">S</text>
<text x="604" y="444.6" font-size="18" fill="#ff0000">Se</text>
<text x="636" y="405.8" font-size="18" fill="#000">At</text>
<text x="641.5" y="485.6" font-size="18" fill="#000">F</text>
<text x="637.5" y="564.4" font-size="18" fill="#000">Br</text>
<line x1="165.2" y1="567.7" x2="165.2" y2="538" stroke="#000" stroke-width="1.6"/>
<polygon points="162.3,539.7 168.1,539.7 165.2,532.5" fill="#000"/>
<line x1="165.2" y1="528.4" x2="165.2" y2="492" stroke="#000" stroke-width="1.6"/>
<polygon points="162.3,493.5 168.1,493.5 165.2,484.1" fill="#000"/>
<circle cx="165.2" cy="480.2" r="3.6" fill="#000"/>
<circle cx="165.2" cy="528.4" r="3.6" fill="#000"/>
<circle cx="165.2" cy="574.5" r="3.6" fill="#000"/>
<line x1="439.9" y1="576" x2="439.9" y2="489" stroke="#000" stroke-width="1.6"/>
<polygon points="437,490.5 442.8,490.5 439.9,481.5" fill="#000"/>
<circle cx="439.9" cy="472.8" r="3.6" fill="#000"/>
<circle cx="439.9" cy="572.6" r="3.6" fill="#000"/>
<circle cx="439.9" cy="579.9" r="3.6" fill="#000"/>
</svg>
</body></html>
